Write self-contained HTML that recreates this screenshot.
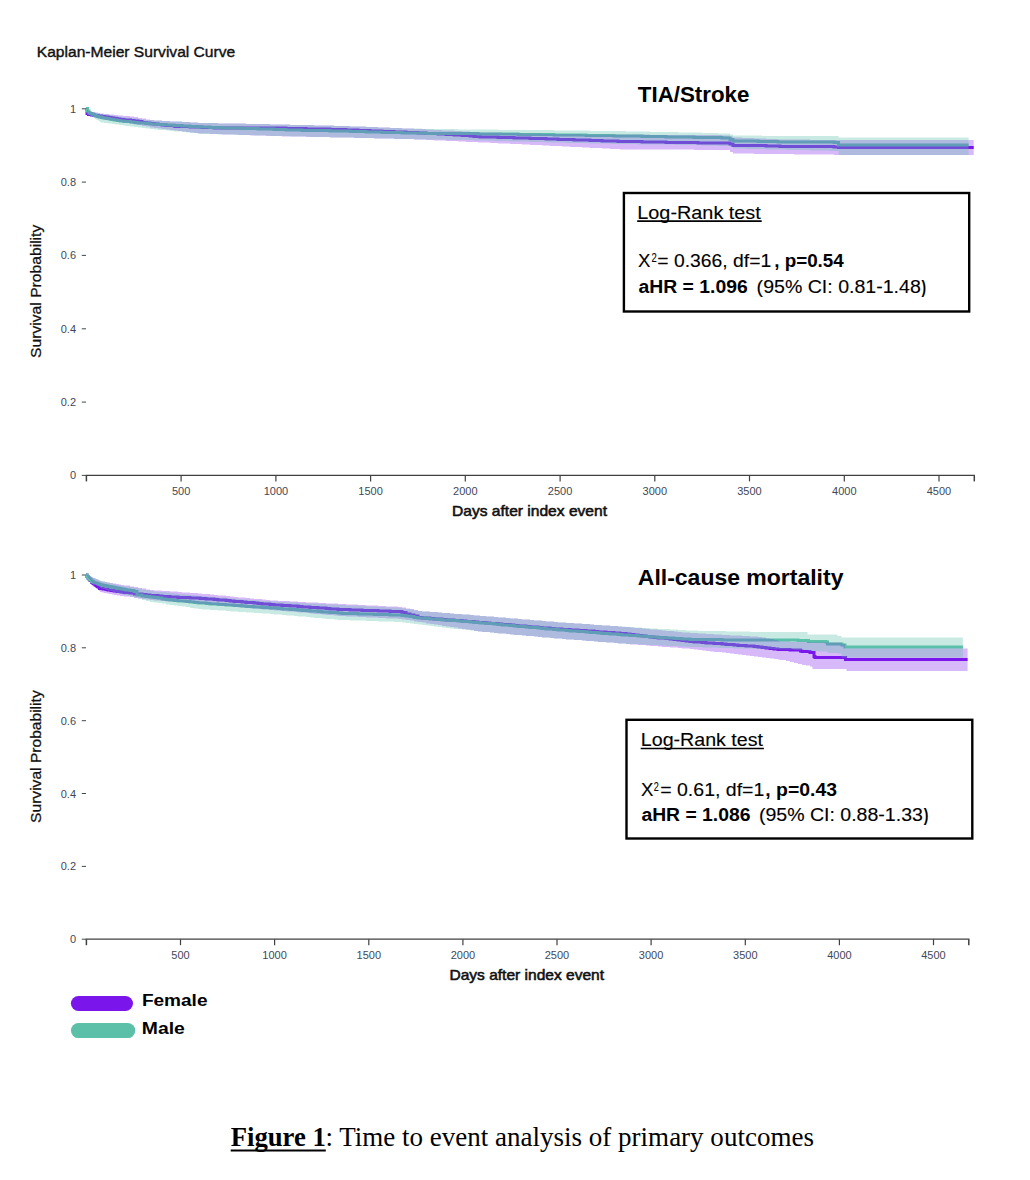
<!DOCTYPE html>
<html><head><meta charset="utf-8"><title>Kaplan-Meier Survival Curve</title>
<style>
html,body{margin:0;padding:0;background:#fff;}
body{width:1030px;height:1180px;overflow:hidden;}
svg{display:block;}
text{font-family:'Liberation Sans', Arial, sans-serif;}
.tk{font-size:11px;fill:#3f4858;}
</style></head>
<body>
<svg width="1030" height="1180" viewBox="0 0 1030 1180">
<rect width="1030" height="1180" fill="#fff"/>
<line x1="81.8" y1="475.4" x2="86" y2="475.4" stroke="#3f4858" stroke-width="1"/>
<text x="76" y="479.4" text-anchor="end" class="tk">0</text>
<line x1="81.8" y1="402.1" x2="86" y2="402.1" stroke="#3f4858" stroke-width="1"/>
<text x="76" y="406.1" text-anchor="end" class="tk">0.2</text>
<line x1="81.8" y1="328.8" x2="86" y2="328.8" stroke="#3f4858" stroke-width="1"/>
<text x="76" y="332.8" text-anchor="end" class="tk">0.4</text>
<line x1="81.8" y1="255.4" x2="86" y2="255.4" stroke="#3f4858" stroke-width="1"/>
<text x="76" y="259.4" text-anchor="end" class="tk">0.6</text>
<line x1="81.8" y1="182.1" x2="86" y2="182.1" stroke="#3f4858" stroke-width="1"/>
<text x="76" y="186.1" text-anchor="end" class="tk">0.8</text>
<line x1="81.8" y1="108.8" x2="86" y2="108.8" stroke="#3f4858" stroke-width="1"/>
<text x="76" y="112.8" text-anchor="end" class="tk">1</text>
<line x1="85.8" y1="475.4" x2="974.9" y2="475.4" stroke="#404040" stroke-width="1.3"/>
<line x1="86.4" y1="475.4" x2="86.4" y2="481.4" stroke="#404040" stroke-width="1.5"/>
<line x1="974.3" y1="475.4" x2="974.3" y2="481.4" stroke="#404040" stroke-width="1.5"/>
<line x1="181.1" y1="475.4" x2="181.1" y2="481.4" stroke="#404040" stroke-width="1.2"/>
<text x="181.1" y="495.0" text-anchor="middle" class="tk">500</text>
<line x1="275.9" y1="475.4" x2="275.9" y2="481.4" stroke="#404040" stroke-width="1.2"/>
<text x="275.9" y="495.0" text-anchor="middle" class="tk">1000</text>
<line x1="370.6" y1="475.4" x2="370.6" y2="481.4" stroke="#404040" stroke-width="1.2"/>
<text x="370.6" y="495.0" text-anchor="middle" class="tk">1500</text>
<line x1="465.3" y1="475.4" x2="465.3" y2="481.4" stroke="#404040" stroke-width="1.2"/>
<text x="465.3" y="495.0" text-anchor="middle" class="tk">2000</text>
<line x1="560.1" y1="475.4" x2="560.1" y2="481.4" stroke="#404040" stroke-width="1.2"/>
<text x="560.1" y="495.0" text-anchor="middle" class="tk">2500</text>
<line x1="654.8" y1="475.4" x2="654.8" y2="481.4" stroke="#404040" stroke-width="1.2"/>
<text x="654.8" y="495.0" text-anchor="middle" class="tk">3000</text>
<line x1="749.5" y1="475.4" x2="749.5" y2="481.4" stroke="#404040" stroke-width="1.2"/>
<text x="749.5" y="495.0" text-anchor="middle" class="tk">3500</text>
<line x1="844.3" y1="475.4" x2="844.3" y2="481.4" stroke="#404040" stroke-width="1.2"/>
<text x="844.3" y="495.0" text-anchor="middle" class="tk">4000</text>
<line x1="939.0" y1="475.4" x2="939.0" y2="481.4" stroke="#404040" stroke-width="1.2"/>
<text x="939.0" y="495.0" text-anchor="middle" class="tk">4500</text>
<path d="M86.0 108.5L87.0 108.5L87.0 113.5L88.5 113.5L88.5 114.5L90.0 114.5L90.0 114.5L91.7 114.5L91.7 115.0L93.0 115.0L93.0 115.0L94.0 115.0L94.0 115.5L95.0 115.5L95.0 115.5L96.0 115.5L96.0 115.5L97.0 115.5L97.0 115.5L98.0 115.5L98.0 116.0L99.0 116.0L99.0 116.0L100.0 116.0L100.0 116.0L101.4 116.0L101.4 116.5L103.0 116.5L103.0 116.5L104.0 116.5L104.0 116.5L105.0 116.5L105.0 117.0L106.0 117.0L106.0 117.0L107.0 117.0L107.0 117.0L108.0 117.0L108.0 117.5L109.0 117.5L109.0 117.5L110.0 117.5L110.0 117.5L111.0 117.5L111.0 118.0L112.0 118.0L112.0 118.0L113.0 118.0L113.0 118.0L114.0 118.0L114.0 118.5L115.0 118.5L115.0 118.5L116.0 118.5L116.0 118.5L117.0 118.5L117.0 119.0L118.0 119.0L118.0 119.0L119.0 119.0L119.0 119.0L120.0 119.0L120.0 119.5L121.0 119.5L121.0 119.5L122.0 119.5L122.0 119.5L123.0 119.5L123.0 119.5L124.0 119.5L124.0 120.0L125.0 120.0L125.0 120.0L126.0 120.0L126.0 120.0L130.5 120.0L130.5 120.5L134.0 120.5L134.0 121.0L138.0 121.0L138.0 121.5L142.0 121.5L142.0 122.5L146.0 122.5L146.0 123.0L150.0 123.0L150.0 123.5L154.0 123.5L154.0 124.0L158.0 124.0L158.0 124.5L162.0 124.5L162.0 125.0L166.0 125.0L166.0 125.5L170.0 125.5L170.0 125.5L174.0 125.5L174.0 126.0L175.0 126.0L175.0 126.5L178.0 126.5L178.0 126.5L182.0 126.5L182.0 126.5L186.0 126.5L186.0 126.5L190.0 126.5L190.0 127.0L194.0 127.0L194.0 127.0L198.0 127.0L198.0 127.0L202.0 127.0L202.0 127.5L206.0 127.5L206.0 127.5L210.0 127.5L210.0 127.5L214.0 127.5L214.0 128.0L218.0 128.0L218.0 128.0L220.0 128.0L220.0 128.0L222.0 128.0L222.0 128.0L226.0 128.0L226.0 128.0L230.0 128.0L230.0 128.0L234.0 128.0L234.0 128.0L238.0 128.0L238.0 128.0L242.0 128.0L242.0 128.0L246.0 128.0L246.0 128.0L250.0 128.0L250.0 128.0L254.0 128.0L254.0 128.0L258.0 128.0L258.0 128.0L262.0 128.0L262.0 128.0L266.0 128.0L266.0 128.0L270.0 128.0L270.0 128.0L274.0 128.0L274.0 128.0L278.0 128.0L278.0 128.0L282.0 128.0L282.0 128.0L286.0 128.0L286.0 128.5L290.0 128.5L290.0 128.5L294.0 128.5L294.0 128.5L298.0 128.5L298.0 128.5L302.0 128.5L302.0 128.5L306.0 128.5L306.0 129.0L310.0 129.0L310.0 129.0L314.0 129.0L314.0 129.0L318.0 129.0L318.0 129.0L322.0 129.0L322.0 129.0L326.0 129.0L326.0 129.0L330.0 129.0L330.0 129.5L334.0 129.5L334.0 129.5L338.0 129.5L338.0 129.5L340.0 129.5L340.0 129.5L342.0 129.5L342.0 129.5L346.0 129.5L346.0 130.0L350.0 130.0L350.0 130.0L354.0 130.0L354.0 130.0L358.0 130.0L358.0 130.5L362.0 130.5L362.0 130.5L366.0 130.5L366.0 130.5L370.0 130.5L370.0 131.0L374.0 131.0L374.0 131.0L378.0 131.0L378.0 131.0L382.0 131.0L382.0 131.5L386.0 131.5L386.0 131.5L390.0 131.5L390.0 131.5L394.0 131.5L394.0 132.0L398.0 132.0L398.0 132.0L402.0 132.0L402.0 132.0L406.0 132.0L406.0 132.5L410.0 132.5L410.0 132.5L414.0 132.5L414.0 132.5L418.0 132.5L418.0 133.0L422.0 133.0L422.0 133.0L426.0 133.0L426.0 133.5L430.0 133.5L430.0 133.5L434.0 133.5L434.0 133.5L438.0 133.5L438.0 134.0L442.0 134.0L442.0 134.0L446.0 134.0L446.0 134.5L450.0 134.5L450.0 134.5L454.0 134.5L454.0 135.0L458.0 135.0L458.0 135.0L462.0 135.0L462.0 135.5L466.0 135.5L466.0 135.5L470.0 135.5L470.0 136.0L474.0 136.0L474.0 136.5L478.0 136.5L478.0 136.5L480.0 136.5L480.0 137.0L482.0 137.0L482.0 137.0L486.0 137.0L486.0 137.0L490.0 137.0L490.0 137.0L494.0 137.0L494.0 137.0L498.0 137.0L498.0 137.5L502.0 137.5L502.0 137.5L506.0 137.5L506.0 137.5L510.0 137.5L510.0 137.5L514.0 137.5L514.0 138.0L518.0 138.0L518.0 138.0L522.0 138.0L522.0 138.0L526.0 138.0L526.0 138.0L530.0 138.0L530.0 138.5L534.0 138.5L534.0 138.5L538.0 138.5L538.0 138.5L542.0 138.5L542.0 138.5L546.0 138.5L546.0 139.0L550.0 139.0L550.0 139.0L554.0 139.0L554.0 139.0L558.0 139.0L558.0 139.5L562.0 139.5L562.0 139.5L566.0 139.5L566.0 139.5L570.0 139.5L570.0 139.5L574.0 139.5L574.0 140.0L578.0 140.0L578.0 140.0L582.0 140.0L582.0 140.0L586.0 140.0L586.0 140.0L590.0 140.0L590.0 140.5L594.0 140.5L594.0 140.5L598.0 140.5L598.0 140.5L602.0 140.5L602.0 141.0L606.0 141.0L606.0 141.0L610.0 141.0L610.0 141.0L614.0 141.0L614.0 141.0L618.0 141.0L618.0 141.5L620.0 141.5L620.0 141.5L622.0 141.5L622.0 141.5L626.0 141.5L626.0 141.5L630.0 141.5L630.0 141.5L634.0 141.5L634.0 141.5L638.0 141.5L638.0 141.5L642.0 141.5L642.0 142.0L646.0 142.0L646.0 142.0L650.0 142.0L650.0 142.0L654.0 142.0L654.0 142.0L658.0 142.0L658.0 142.0L662.0 142.0L662.0 142.0L666.0 142.0L666.0 142.5L670.0 142.5L670.0 142.5L674.0 142.5L674.0 142.5L678.0 142.5L678.0 142.5L682.0 142.5L682.0 142.5L686.0 142.5L686.0 142.5L690.0 142.5L690.0 142.5L694.0 142.5L694.0 142.5L698.0 142.5L698.0 143.0L702.0 143.0L702.0 143.0L706.0 143.0L706.0 143.0L710.0 143.0L710.0 143.0L714.0 143.0L714.0 143.0L718.0 143.0L718.0 143.0L722.0 143.0L722.0 143.0L726.0 143.0L726.0 143.0L727.0 143.0L727.0 143.0L730.0 143.0L730.0 144.0L733.0 144.0L733.0 145.5L734.0 145.5L734.0 145.5L738.0 145.5L738.0 145.5L742.0 145.5L742.0 145.5L746.0 145.5L746.0 145.5L750.0 145.5L750.0 145.5L754.0 145.5L754.0 145.5L758.0 145.5L758.0 145.5L760.0 145.5L760.0 145.5L762.0 145.5L762.0 145.5L766.0 145.5L766.0 146.0L770.0 146.0L770.0 146.0L774.0 146.0L774.0 146.0L778.0 146.0L778.0 146.0L780.0 146.0L780.0 146.5L782.0 146.5L782.0 146.5L786.0 146.5L786.0 146.5L790.0 146.5L790.0 146.5L794.0 146.5L794.0 146.5L798.0 146.5L798.0 146.5L802.0 146.5L802.0 146.5L806.0 146.5L806.0 146.5L810.0 146.5L810.0 146.5L814.0 146.5L814.0 146.5L818.0 146.5L818.0 146.5L822.0 146.5L822.0 146.5L826.0 146.5L826.0 146.5L830.0 146.5L830.0 146.5L834.0 146.5L834.0 147.0L838.0 147.0L838.0 147.0L838.5 147.0L838.5 147.5L842.0 147.5L842.0 147.5L846.0 147.5L846.0 147.5L850.0 147.5L850.0 147.5L854.0 147.5L854.0 147.5L858.0 147.5L858.0 147.5L862.0 147.5L862.0 147.5L866.0 147.5L866.0 147.5L870.0 147.5L870.0 147.5L874.0 147.5L874.0 147.5L878.0 147.5L878.0 147.5L882.0 147.5L882.0 147.5L886.0 147.5L886.0 147.5L890.0 147.5L890.0 147.5L894.0 147.5L894.0 147.5L898.0 147.5L898.0 147.5L902.0 147.5L902.0 147.5L906.0 147.5L906.0 147.5L910.0 147.5L910.0 147.5L914.0 147.5L914.0 147.5L918.0 147.5L918.0 147.5L922.0 147.5L922.0 147.5L926.0 147.5L926.0 147.5L930.0 147.5L930.0 147.5L934.0 147.5L934.0 147.5L938.0 147.5L938.0 147.5L942.0 147.5L942.0 147.5L946.0 147.5L946.0 147.5L950.0 147.5L950.0 147.5L954.0 147.5L954.0 147.5L958.0 147.5L958.0 147.5L962.0 147.5L962.0 147.5L966.0 147.5L966.0 147.5L970.0 147.5L970.0 147.5L973.7 147.5L973.7 147.5" fill="none" stroke="#7a16ec" stroke-width="3.0" stroke-linejoin="miter"/>
<path d="M86.0 108.5L87.5 108.5L87.5 111.0L89.0 111.0L89.0 113.0L90.0 113.0L90.0 113.5L91.7 113.5L91.7 114.0L93.0 114.0L93.0 114.5L94.0 114.5L94.0 115.0L95.0 115.0L95.0 115.5L96.0 115.5L96.0 116.0L97.0 116.0L97.0 116.0L98.0 116.0L98.0 116.5L99.0 116.5L99.0 117.0L100.0 117.0L100.0 117.0L101.4 117.0L101.4 117.5L103.0 117.5L103.0 118.0L104.0 118.0L104.0 118.0L105.0 118.0L105.0 118.0L106.0 118.0L106.0 118.5L107.0 118.5L107.0 118.5L108.0 118.5L108.0 118.5L109.0 118.5L109.0 119.0L110.0 119.0L110.0 119.0L111.0 119.0L111.0 119.5L112.0 119.5L112.0 119.5L113.0 119.5L113.0 119.5L114.0 119.5L114.0 120.0L115.0 120.0L115.0 120.0L116.0 120.0L116.0 120.0L117.0 120.0L117.0 120.5L118.0 120.5L118.0 120.5L119.0 120.5L119.0 120.5L120.0 120.5L120.0 121.0L121.0 121.0L121.0 121.0L122.0 121.0L122.0 121.0L123.0 121.0L123.0 121.0L124.0 121.0L124.0 121.5L125.0 121.5L125.0 121.5L126.0 121.5L126.0 121.5L130.5 121.5L130.5 122.0L134.0 122.0L134.0 122.5L138.0 122.5L138.0 123.0L142.0 123.0L142.0 123.0L146.0 123.0L146.0 123.5L150.0 123.5L150.0 124.0L154.0 124.0L154.0 124.0L158.0 124.0L158.0 124.5L162.0 124.5L162.0 124.5L166.0 124.5L166.0 125.0L170.0 125.0L170.0 125.0L174.0 125.0L174.0 125.5L175.0 125.5L175.0 125.5L178.0 125.5L178.0 125.5L182.0 125.5L182.0 126.0L186.0 126.0L186.0 126.0L190.0 126.0L190.0 126.5L194.0 126.5L194.0 126.5L198.0 126.5L198.0 127.0L200.0 127.0L200.0 127.0L202.0 127.0L202.0 127.0L206.0 127.0L206.0 127.0L210.0 127.0L210.0 127.5L214.0 127.5L214.0 127.5L218.0 127.5L218.0 127.5L220.0 127.5L220.0 127.5L222.0 127.5L222.0 128.0L226.0 128.0L226.0 128.0L230.0 128.0L230.0 128.0L234.0 128.0L234.0 128.0L238.0 128.0L238.0 128.0L242.0 128.0L242.0 128.5L246.0 128.5L246.0 128.5L250.0 128.5L250.0 128.5L254.0 128.5L254.0 128.5L258.0 128.5L258.0 129.0L262.0 129.0L262.0 129.0L266.0 129.0L266.0 129.0L270.0 129.0L270.0 129.0L274.0 129.0L274.0 129.5L278.0 129.5L278.0 129.5L282.0 129.5L282.0 129.5L286.0 129.5L286.0 130.0L290.0 130.0L290.0 130.0L294.0 130.0L294.0 130.0L298.0 130.0L298.0 130.0L302.0 130.0L302.0 130.5L306.0 130.5L306.0 130.5L310.0 130.5L310.0 130.5L314.0 130.5L314.0 130.5L318.0 130.5L318.0 130.5L322.0 130.5L322.0 130.5L326.0 130.5L326.0 130.5L330.0 130.5L330.0 131.0L334.0 131.0L334.0 131.0L338.0 131.0L338.0 131.0L340.0 131.0L340.0 131.0L342.0 131.0L342.0 131.0L346.0 131.0L346.0 131.0L350.0 131.0L350.0 131.5L354.0 131.5L354.0 131.5L358.0 131.5L358.0 131.5L362.0 131.5L362.0 131.5L366.0 131.5L366.0 132.0L370.0 132.0L370.0 132.0L374.0 132.0L374.0 132.0L378.0 132.0L378.0 132.0L382.0 132.0L382.0 132.5L386.0 132.5L386.0 132.5L390.0 132.5L390.0 132.5L394.0 132.5L394.0 132.5L398.0 132.5L398.0 132.5L402.0 132.5L402.0 133.0L406.0 133.0L406.0 133.0L410.0 133.0L410.0 133.0L414.0 133.0L414.0 133.0L418.0 133.0L418.0 133.0L422.0 133.0L422.0 133.0L426.0 133.0L426.0 133.5L430.0 133.5L430.0 133.5L434.0 133.5L434.0 133.5L438.0 133.5L438.0 133.5L442.0 133.5L442.0 133.5L446.0 133.5L446.0 133.5L450.0 133.5L450.0 133.5L454.0 133.5L454.0 133.5L458.0 133.5L458.0 133.5L462.0 133.5L462.0 133.5L466.0 133.5L466.0 133.5L470.0 133.5L470.0 133.5L474.0 133.5L474.0 133.5L478.0 133.5L478.0 134.0L480.0 134.0L480.0 134.0L482.0 134.0L482.0 134.0L486.0 134.0L486.0 134.0L490.0 134.0L490.0 134.0L494.0 134.0L494.0 134.0L498.0 134.0L498.0 134.0L502.0 134.0L502.0 134.0L506.0 134.0L506.0 134.0L510.0 134.0L510.0 134.0L514.0 134.0L514.0 134.0L518.0 134.0L518.0 134.5L522.0 134.5L522.0 134.5L526.0 134.5L526.0 134.5L530.0 134.5L530.0 134.5L534.0 134.5L534.0 134.5L538.0 134.5L538.0 134.5L542.0 134.5L542.0 134.5L546.0 134.5L546.0 134.5L550.0 134.5L550.0 134.5L554.0 134.5L554.0 135.0L558.0 135.0L558.0 135.0L562.0 135.0L562.0 135.0L566.0 135.0L566.0 135.0L570.0 135.0L570.0 135.0L574.0 135.0L574.0 135.0L578.0 135.0L578.0 135.0L582.0 135.0L582.0 135.0L586.0 135.0L586.0 135.5L590.0 135.5L590.0 135.5L594.0 135.5L594.0 135.5L598.0 135.5L598.0 135.5L602.0 135.5L602.0 135.5L606.0 135.5L606.0 135.5L610.0 135.5L610.0 135.5L614.0 135.5L614.0 136.0L618.0 136.0L618.0 136.0L620.0 136.0L620.0 136.0L622.0 136.0L622.0 136.0L626.0 136.0L626.0 136.0L630.0 136.0L630.0 136.0L634.0 136.0L634.0 136.0L638.0 136.0L638.0 136.0L642.0 136.0L642.0 136.5L646.0 136.5L646.0 136.5L650.0 136.5L650.0 136.5L654.0 136.5L654.0 136.5L658.0 136.5L658.0 136.5L662.0 136.5L662.0 136.5L666.0 136.5L666.0 137.0L670.0 137.0L670.0 137.0L674.0 137.0L674.0 137.0L678.0 137.0L678.0 137.0L682.0 137.0L682.0 137.0L686.0 137.0L686.0 137.0L690.0 137.0L690.0 137.0L694.0 137.0L694.0 137.5L698.0 137.5L698.0 137.5L702.0 137.5L702.0 137.5L706.0 137.5L706.0 137.5L710.0 137.5L710.0 137.5L714.0 137.5L714.0 137.5L718.0 137.5L718.0 137.5L722.0 137.5L722.0 138.0L726.0 138.0L726.0 138.0L727.0 138.0L727.0 138.0L730.0 138.0L730.0 139.5L733.0 139.5L733.0 141.0L734.0 141.0L734.0 141.0L738.0 141.0L738.0 141.0L742.0 141.0L742.0 141.0L746.0 141.0L746.0 141.0L750.0 141.0L750.0 141.0L754.0 141.0L754.0 141.0L758.0 141.0L758.0 141.5L760.0 141.5L760.0 141.5L762.0 141.5L762.0 141.5L766.0 141.5L766.0 141.5L770.0 141.5L770.0 141.5L774.0 141.5L774.0 141.5L778.0 141.5L778.0 142.0L780.0 142.0L780.0 142.0L782.0 142.0L782.0 142.0L786.0 142.0L786.0 142.0L790.0 142.0L790.0 142.0L794.0 142.0L794.0 142.0L798.0 142.0L798.0 142.0L802.0 142.0L802.0 142.0L806.0 142.0L806.0 142.0L810.0 142.0L810.0 142.0L814.0 142.0L814.0 142.0L818.0 142.0L818.0 142.0L822.0 142.0L822.0 142.0L826.0 142.0L826.0 142.0L830.0 142.0L830.0 142.0L834.0 142.0L834.0 142.5L838.0 142.5L838.0 142.5L838.5 142.5L838.5 145.0L842.0 145.0L842.0 145.0L846.0 145.0L846.0 145.0L850.0 145.0L850.0 145.0L854.0 145.0L854.0 145.0L858.0 145.0L858.0 145.0L862.0 145.0L862.0 145.0L866.0 145.0L866.0 145.0L870.0 145.0L870.0 145.0L874.0 145.0L874.0 145.0L878.0 145.0L878.0 145.0L882.0 145.0L882.0 145.0L886.0 145.0L886.0 145.0L890.0 145.0L890.0 145.0L894.0 145.0L894.0 145.0L898.0 145.0L898.0 145.0L902.0 145.0L902.0 145.0L906.0 145.0L906.0 145.0L910.0 145.0L910.0 145.0L914.0 145.0L914.0 145.0L918.0 145.0L918.0 145.0L922.0 145.0L922.0 145.0L926.0 145.0L926.0 145.0L930.0 145.0L930.0 145.0L934.0 145.0L934.0 145.0L938.0 145.0L938.0 145.0L942.0 145.0L942.0 145.0L946.0 145.0L946.0 145.0L950.0 145.0L950.0 145.0L954.0 145.0L954.0 145.0L958.0 145.0L958.0 145.0L962.0 145.0L962.0 145.0L966.0 145.0L966.0 145.0L968.6 145.0L968.6 145.0" fill="none" stroke="#5cc0a9" stroke-width="3.0" stroke-linejoin="miter"/>
<path d="M86.0 108.0L87.0 108.0L87.0 109.5L88.0 109.5L88.0 111.0L89.0 111.0L89.0 111.0L90.0 111.0L90.0 111.5L91.0 111.5L91.0 111.5L92.0 111.5L92.0 112.0L93.0 112.0L93.0 112.0L94.0 112.0L94.0 112.0L95.0 112.0L95.0 112.5L96.0 112.5L96.0 112.5L97.0 112.5L97.0 112.5L98.0 112.5L98.0 113.0L99.0 113.0L99.0 113.0L100.0 113.0L100.0 113.5L101.0 113.5L101.0 113.5L102.0 113.5L102.0 113.5L103.0 113.5L103.0 113.5L104.0 113.5L104.0 114.0L105.0 114.0L105.0 114.0L106.0 114.0L106.0 114.0L107.0 114.0L107.0 114.0L108.0 114.0L108.0 114.0L109.0 114.0L109.0 114.5L110.0 114.5L110.0 114.5L111.0 114.5L111.0 114.5L112.0 114.5L112.0 114.5L113.0 114.5L113.0 114.5L114.0 114.5L114.0 115.0L115.0 115.0L115.0 115.0L116.0 115.0L116.0 115.0L117.0 115.0L117.0 115.0L118.0 115.0L118.0 115.5L119.0 115.5L119.0 115.5L120.0 115.5L120.0 115.5L121.0 115.5L121.0 115.5L122.0 115.5L122.0 115.5L123.0 115.5L123.0 116.0L124.0 116.0L124.0 116.0L125.0 116.0L125.0 116.0L126.0 116.0L126.0 116.0L130.0 116.0L130.0 116.5L134.0 116.5L134.0 117.0L138.0 117.0L138.0 118.0L142.0 118.0L142.0 118.5L146.0 118.5L146.0 119.5L150.0 119.5L150.0 120.0L154.0 120.0L154.0 120.5L158.0 120.5L158.0 120.5L162.0 120.5L162.0 121.0L166.0 121.0L166.0 121.0L170.0 121.0L170.0 121.5L174.0 121.5L174.0 121.5L178.0 121.5L178.0 121.5L182.0 121.5L182.0 122.0L186.0 122.0L186.0 122.0L190.0 122.0L190.0 122.5L194.0 122.5L194.0 122.5L198.0 122.5L198.0 123.0L200.0 123.0L200.0 123.0L202.0 123.0L202.0 123.0L206.0 123.0L206.0 123.0L210.0 123.0L210.0 123.0L214.0 123.0L214.0 123.0L218.0 123.0L218.0 123.5L222.0 123.5L222.0 123.5L226.0 123.5L226.0 123.5L230.0 123.5L230.0 123.5L234.0 123.5L234.0 123.5L238.0 123.5L238.0 123.5L242.0 123.5L242.0 123.5L246.0 123.5L246.0 124.0L250.0 124.0L250.0 124.0L254.0 124.0L254.0 124.0L258.0 124.0L258.0 124.0L262.0 124.0L262.0 124.0L266.0 124.0L266.0 124.0L270.0 124.0L270.0 124.5L274.0 124.5L274.0 124.5L278.0 124.5L278.0 124.5L282.0 124.5L282.0 124.5L286.0 124.5L286.0 124.5L290.0 124.5L290.0 125.0L294.0 125.0L294.0 125.0L298.0 125.0L298.0 125.0L302.0 125.0L302.0 125.0L306.0 125.0L306.0 125.0L310.0 125.0L310.0 125.0L314.0 125.0L314.0 125.5L318.0 125.5L318.0 125.5L322.0 125.5L322.0 125.5L326.0 125.5L326.0 125.5L330.0 125.5L330.0 125.5L334.0 125.5L334.0 126.0L338.0 126.0L338.0 126.0L340.0 126.0L340.0 126.0L342.0 126.0L342.0 126.0L346.0 126.0L346.0 126.0L350.0 126.0L350.0 126.5L354.0 126.5L354.0 126.5L358.0 126.5L358.0 126.5L362.0 126.5L362.0 126.5L366.0 126.5L366.0 127.0L370.0 127.0L370.0 127.0L374.0 127.0L374.0 127.0L378.0 127.0L378.0 127.5L382.0 127.5L382.0 127.5L386.0 127.5L386.0 127.5L390.0 127.5L390.0 128.0L394.0 128.0L394.0 128.0L398.0 128.0L398.0 128.0L402.0 128.0L402.0 128.5L406.0 128.5L406.0 128.5L410.0 128.5L410.0 128.5L414.0 128.5L414.0 129.0L418.0 129.0L418.0 129.0L422.0 129.0L422.0 129.0L426.0 129.0L426.0 129.5L430.0 129.5L430.0 129.5L434.0 129.5L434.0 130.0L438.0 130.0L438.0 130.0L442.0 130.0L442.0 130.5L446.0 130.5L446.0 130.5L450.0 130.5L450.0 130.5L454.0 130.5L454.0 131.0L458.0 131.0L458.0 131.0L462.0 131.0L462.0 131.5L466.0 131.5L466.0 131.5L470.0 131.5L470.0 132.0L474.0 132.0L474.0 132.0L478.0 132.0L478.0 132.0L480.0 132.0L480.0 132.5L482.0 132.5L482.0 132.5L486.0 132.5L486.0 132.5L490.0 132.5L490.0 132.5L494.0 132.5L494.0 132.5L498.0 132.5L498.0 132.5L502.0 132.5L502.0 133.0L506.0 133.0L506.0 133.0L510.0 133.0L510.0 133.0L514.0 133.0L514.0 133.0L518.0 133.0L518.0 133.0L522.0 133.0L522.0 133.5L526.0 133.5L526.0 133.5L530.0 133.5L530.0 133.5L534.0 133.5L534.0 133.5L538.0 133.5L538.0 133.5L542.0 133.5L542.0 134.0L546.0 134.0L546.0 134.0L550.0 134.0L550.0 134.0L554.0 134.0L554.0 134.0L558.0 134.0L558.0 134.0L562.0 134.0L562.0 134.0L566.0 134.0L566.0 134.0L570.0 134.0L570.0 134.0L574.0 134.0L574.0 134.0L578.0 134.0L578.0 134.0L582.0 134.0L582.0 134.5L586.0 134.5L586.0 134.5L590.0 134.5L590.0 134.5L594.0 134.5L594.0 134.5L598.0 134.5L598.0 134.5L602.0 134.5L602.0 134.5L606.0 134.5L606.0 134.5L610.0 134.5L610.0 134.5L614.0 134.5L614.0 134.5L618.0 134.5L618.0 134.5L620.0 134.5L620.0 134.5L622.0 134.5L622.0 134.5L626.0 134.5L626.0 134.5L630.0 134.5L630.0 134.5L634.0 134.5L634.0 134.5L638.0 134.5L638.0 134.5L642.0 134.5L642.0 134.5L646.0 134.5L646.0 134.5L650.0 134.5L650.0 135.0L654.0 135.0L654.0 135.0L658.0 135.0L658.0 135.0L662.0 135.0L662.0 135.0L666.0 135.0L666.0 135.0L670.0 135.0L670.0 135.0L674.0 135.0L674.0 135.0L678.0 135.0L678.0 135.0L682.0 135.0L682.0 135.0L686.0 135.0L686.0 135.0L690.0 135.0L690.0 135.0L694.0 135.0L694.0 135.0L698.0 135.0L698.0 135.0L702.0 135.0L702.0 135.0L706.0 135.0L706.0 135.0L710.0 135.0L710.0 135.0L714.0 135.0L714.0 135.0L718.0 135.0L718.0 135.0L722.0 135.0L722.0 135.5L726.0 135.5L726.0 135.5L727.0 135.5L727.0 135.5L730.0 135.5L730.0 136.5L733.0 136.5L733.0 137.5L734.0 137.5L734.0 137.5L738.0 137.5L738.0 137.5L742.0 137.5L742.0 138.0L746.0 138.0L746.0 138.0L750.0 138.0L750.0 138.0L754.0 138.0L754.0 138.5L758.0 138.5L758.0 138.5L762.0 138.5L762.0 138.5L766.0 138.5L766.0 139.0L770.0 139.0L770.0 139.0L774.0 139.0L774.0 139.0L778.0 139.0L778.0 139.5L780.0 139.5L780.0 139.5L782.0 139.5L782.0 139.5L786.0 139.5L786.0 139.5L790.0 139.5L790.0 139.5L794.0 139.5L794.0 139.5L798.0 139.5L798.0 139.5L802.0 139.5L802.0 139.5L806.0 139.5L806.0 139.5L810.0 139.5L810.0 140.0L814.0 140.0L814.0 140.0L818.0 140.0L818.0 140.0L822.0 140.0L822.0 140.0L826.0 140.0L826.0 140.0L830.0 140.0L830.0 140.0L834.0 140.0L834.0 140.0L838.0 140.0L838.0 140.0L842.0 140.0L842.0 140.0L846.0 140.0L846.0 140.0L850.0 140.0L850.0 140.0L854.0 140.0L854.0 140.0L858.0 140.0L858.0 140.0L862.0 140.0L862.0 140.0L866.0 140.0L866.0 140.0L870.0 140.0L870.0 140.0L874.0 140.0L874.0 140.0L878.0 140.0L878.0 140.0L882.0 140.0L882.0 140.0L886.0 140.0L886.0 140.0L890.0 140.0L890.0 140.0L894.0 140.0L894.0 140.0L898.0 140.0L898.0 140.0L902.0 140.0L902.0 140.0L906.0 140.0L906.0 140.0L910.0 140.0L910.0 140.0L914.0 140.0L914.0 140.0L918.0 140.0L918.0 140.0L922.0 140.0L922.0 140.0L926.0 140.0L926.0 140.0L930.0 140.0L930.0 140.0L934.0 140.0L934.0 140.0L938.0 140.0L938.0 140.0L942.0 140.0L942.0 140.0L946.0 140.0L946.0 140.0L950.0 140.0L950.0 140.0L954.0 140.0L954.0 140.0L958.0 140.0L958.0 140.0L962.0 140.0L962.0 140.0L966.0 140.0L966.0 140.0L970.0 140.0L970.0 140.0L973.7 140.0L973.7 140.0L973.7 155.0L973.7 155.0L970.0 155.0L970.0 155.0L966.0 155.0L966.0 155.0L962.0 155.0L962.0 155.0L958.0 155.0L958.0 155.0L954.0 155.0L954.0 155.0L950.0 155.0L950.0 155.0L946.0 155.0L946.0 155.0L942.0 155.0L942.0 155.0L938.0 155.0L938.0 155.0L934.0 155.0L934.0 155.0L930.0 155.0L930.0 155.0L926.0 155.0L926.0 155.0L922.0 155.0L922.0 155.0L918.0 155.0L918.0 155.0L914.0 155.0L914.0 155.0L910.0 155.0L910.0 155.0L906.0 155.0L906.0 155.0L902.0 155.0L902.0 155.0L898.0 155.0L898.0 155.0L894.0 155.0L894.0 155.0L890.0 155.0L890.0 155.0L886.0 155.0L886.0 155.0L882.0 155.0L882.0 155.0L878.0 155.0L878.0 155.0L874.0 155.0L874.0 155.0L870.0 155.0L870.0 155.0L866.0 155.0L866.0 155.0L862.0 155.0L862.0 155.0L858.0 155.0L858.0 155.0L854.0 155.0L854.0 155.0L850.0 155.0L850.0 155.0L846.0 155.0L846.0 155.0L842.0 155.0L842.0 155.0L838.0 155.0L838.0 155.0L834.0 155.0L834.0 154.5L830.0 154.5L830.0 154.5L826.0 154.5L826.0 154.5L822.0 154.5L822.0 154.5L818.0 154.5L818.0 154.5L814.0 154.5L814.0 154.5L810.0 154.5L810.0 154.5L806.0 154.5L806.0 154.5L802.0 154.5L802.0 154.5L798.0 154.5L798.0 154.5L794.0 154.5L794.0 154.0L790.0 154.0L790.0 154.0L786.0 154.0L786.0 154.0L782.0 154.0L782.0 154.0L778.0 154.0L778.0 154.0L774.0 154.0L774.0 154.0L770.0 154.0L770.0 154.0L766.0 154.0L766.0 154.0L762.0 154.0L762.0 154.0L758.0 154.0L758.0 154.0L754.0 154.0L754.0 153.5L750.0 153.5L750.0 153.5L746.0 153.5L746.0 153.5L742.0 153.5L742.0 153.5L738.0 153.5L738.0 153.5L734.0 153.5L734.0 153.5L733.0 153.5L733.0 152.0L730.0 152.0L730.0 150.0L727.0 150.0L727.0 150.0L726.0 150.0L726.0 150.0L722.0 150.0L722.0 150.0L718.0 150.0L718.0 150.0L714.0 150.0L714.0 150.0L710.0 150.0L710.0 150.0L706.0 150.0L706.0 150.0L702.0 150.0L702.0 150.0L698.0 150.0L698.0 150.0L694.0 150.0L694.0 149.5L690.0 149.5L690.0 149.5L686.0 149.5L686.0 149.5L682.0 149.5L682.0 149.5L678.0 149.5L678.0 149.5L674.0 149.5L674.0 149.5L670.0 149.5L670.0 149.5L666.0 149.5L666.0 149.5L662.0 149.5L662.0 149.5L658.0 149.5L658.0 149.5L654.0 149.5L654.0 149.5L650.0 149.5L650.0 149.5L646.0 149.5L646.0 149.5L642.0 149.5L642.0 149.5L638.0 149.5L638.0 149.5L634.0 149.5L634.0 149.5L630.0 149.5L630.0 149.5L626.0 149.5L626.0 149.5L622.0 149.5L622.0 149.5L620.0 149.5L620.0 149.0L618.0 149.0L618.0 149.0L614.0 149.0L614.0 149.0L610.0 149.0L610.0 148.5L606.0 148.5L606.0 148.5L602.0 148.5L602.0 148.0L598.0 148.0L598.0 148.0L594.0 148.0L594.0 148.0L590.0 148.0L590.0 147.5L586.0 147.5L586.0 147.5L582.0 147.5L582.0 147.0L578.0 147.0L578.0 147.0L574.0 147.0L574.0 147.0L570.0 147.0L570.0 146.5L566.0 146.5L566.0 146.5L562.0 146.5L562.0 146.0L558.0 146.0L558.0 146.0L554.0 146.0L554.0 146.0L550.0 146.0L550.0 145.5L546.0 145.5L546.0 145.5L542.0 145.5L542.0 145.0L538.0 145.0L538.0 145.0L534.0 145.0L534.0 145.0L530.0 145.0L530.0 144.5L526.0 144.5L526.0 144.5L522.0 144.5L522.0 144.0L518.0 144.0L518.0 144.0L514.0 144.0L514.0 144.0L510.0 144.0L510.0 143.5L506.0 143.5L506.0 143.5L502.0 143.5L502.0 143.5L498.0 143.5L498.0 143.0L494.0 143.0L494.0 143.0L490.0 143.0L490.0 142.5L486.0 142.5L486.0 142.5L482.0 142.5L482.0 142.5L480.0 142.5L480.0 142.5L478.0 142.5L478.0 142.0L474.0 142.0L474.0 142.0L470.0 142.0L470.0 142.0L466.0 142.0L466.0 141.5L462.0 141.5L462.0 141.5L458.0 141.5L458.0 141.0L454.0 141.0L454.0 141.0L450.0 141.0L450.0 141.0L446.0 141.0L446.0 140.5L442.0 140.5L442.0 140.5L438.0 140.5L438.0 140.5L434.0 140.5L434.0 140.0L430.0 140.0L430.0 140.0L426.0 140.0L426.0 139.5L422.0 139.5L422.0 139.5L418.0 139.5L418.0 139.5L414.0 139.5L414.0 139.0L410.0 139.0L410.0 139.0L406.0 139.0L406.0 139.0L402.0 139.0L402.0 139.0L398.0 139.0L398.0 139.0L394.0 139.0L394.0 138.5L390.0 138.5L390.0 138.5L386.0 138.5L386.0 138.5L382.0 138.5L382.0 138.5L378.0 138.5L378.0 138.5L374.0 138.5L374.0 138.0L370.0 138.0L370.0 138.0L366.0 138.0L366.0 138.0L362.0 138.0L362.0 138.0L358.0 138.0L358.0 138.0L354.0 138.0L354.0 137.5L350.0 137.5L350.0 137.5L346.0 137.5L346.0 137.5L342.0 137.5L342.0 137.5L340.0 137.5L340.0 137.5L338.0 137.5L338.0 137.5L334.0 137.5L334.0 137.5L330.0 137.5L330.0 137.0L326.0 137.0L326.0 137.0L322.0 137.0L322.0 137.0L318.0 137.0L318.0 137.0L314.0 137.0L314.0 137.0L310.0 137.0L310.0 137.0L306.0 137.0L306.0 136.5L302.0 136.5L302.0 136.5L298.0 136.5L298.0 136.5L294.0 136.5L294.0 136.5L290.0 136.5L290.0 136.5L286.0 136.5L286.0 136.5L282.0 136.5L282.0 136.0L278.0 136.0L278.0 136.0L274.0 136.0L274.0 136.0L270.0 136.0L270.0 136.0L266.0 136.0L266.0 135.5L262.0 135.5L262.0 135.5L258.0 135.5L258.0 135.5L254.0 135.5L254.0 135.5L250.0 135.5L250.0 135.0L246.0 135.0L246.0 135.0L242.0 135.0L242.0 135.0L238.0 135.0L238.0 134.5L234.0 134.5L234.0 134.5L230.0 134.5L230.0 134.5L226.0 134.5L226.0 134.5L222.0 134.5L222.0 134.0L218.0 134.0L218.0 134.0L214.0 134.0L214.0 134.0L210.0 134.0L210.0 133.5L206.0 133.5L206.0 133.5L202.0 133.5L202.0 133.5L200.0 133.5L200.0 133.5L198.0 133.5L198.0 133.0L194.0 133.0L194.0 132.5L190.0 132.5L190.0 132.0L186.0 132.0L186.0 131.5L182.0 131.5L182.0 131.0L178.0 131.0L178.0 130.5L174.0 130.5L174.0 130.0L170.0 130.0L170.0 129.5L166.0 129.5L166.0 129.0L162.0 129.0L162.0 128.5L158.0 128.5L158.0 128.0L154.0 128.0L154.0 127.5L150.0 127.5L150.0 126.5L146.0 126.5L146.0 126.0L142.0 126.0L142.0 125.0L138.0 125.0L138.0 124.5L134.0 124.5L134.0 123.5L130.0 123.5L130.0 123.0L126.0 123.0L126.0 122.5L125.0 122.5L125.0 122.5L124.0 122.5L124.0 122.5L123.0 122.5L123.0 122.5L122.0 122.5L122.0 122.0L121.0 122.0L121.0 122.0L120.0 122.0L120.0 122.0L119.0 122.0L119.0 121.5L118.0 121.5L118.0 121.5L117.0 121.5L117.0 121.5L116.0 121.5L116.0 121.0L115.0 121.0L115.0 121.0L114.0 121.0L114.0 121.0L113.0 121.0L113.0 120.5L112.0 120.5L112.0 120.5L111.0 120.5L111.0 120.5L110.0 120.5L110.0 120.0L109.0 120.0L109.0 120.0L108.0 120.0L108.0 120.0L107.0 120.0L107.0 120.0L106.0 120.0L106.0 119.5L105.0 119.5L105.0 119.5L104.0 119.5L104.0 119.5L103.0 119.5L103.0 119.0L102.0 119.0L102.0 119.0L101.0 119.0L101.0 119.0L100.0 119.0L100.0 118.5L99.0 118.5L99.0 118.5L98.0 118.5L98.0 118.0L97.0 118.0L97.0 118.0L96.0 118.0L96.0 117.5L95.0 117.5L95.0 117.5L94.0 117.5L94.0 117.0L93.0 117.0L93.0 117.0L92.0 117.0L92.0 116.5L91.0 116.5L91.0 116.5L90.0 116.5L90.0 116.0L89.0 116.0L89.0 116.0L88.0 116.0L88.0 112.5L87.0 112.5L87.0 109.0L86.0 109.0Z" fill="#7a16ec" fill-opacity="0.30" stroke="none"/>
<path d="M86.0 107.5L87.0 107.5L87.0 109.0L88.0 109.0L88.0 110.0L89.0 110.0L89.0 110.5L90.0 110.5L90.0 111.0L91.0 111.0L91.0 111.5L92.0 111.5L92.0 112.0L93.0 112.0L93.0 112.0L94.0 112.0L94.0 112.5L95.0 112.5L95.0 112.5L96.0 112.5L96.0 113.0L97.0 113.0L97.0 113.0L98.0 113.0L98.0 113.5L99.0 113.5L99.0 113.5L100.0 113.5L100.0 114.0L101.0 114.0L101.0 114.0L102.0 114.0L102.0 114.0L103.0 114.0L103.0 114.5L104.0 114.5L104.0 114.5L105.0 114.5L105.0 114.5L106.0 114.5L106.0 114.5L107.0 114.5L107.0 115.0L108.0 115.0L108.0 115.0L109.0 115.0L109.0 115.0L110.0 115.0L110.0 115.0L111.0 115.0L111.0 115.5L112.0 115.5L112.0 115.5L113.0 115.5L113.0 115.5L114.0 115.5L114.0 116.0L115.0 116.0L115.0 116.0L116.0 116.0L116.0 116.0L117.0 116.0L117.0 116.0L118.0 116.0L118.0 116.5L119.0 116.5L119.0 116.5L120.0 116.5L120.0 116.5L121.0 116.5L121.0 117.0L122.0 117.0L122.0 117.0L123.0 117.0L123.0 117.0L124.0 117.0L124.0 117.0L125.0 117.0L125.0 117.5L126.0 117.5L126.0 117.5L130.0 117.5L130.0 118.0L134.0 118.0L134.0 118.5L138.0 118.5L138.0 119.0L142.0 119.0L142.0 119.5L146.0 119.5L146.0 120.0L150.0 120.0L150.0 120.0L154.0 120.0L154.0 120.5L158.0 120.5L158.0 120.5L162.0 120.5L162.0 121.0L166.0 121.0L166.0 121.0L170.0 121.0L170.0 121.5L174.0 121.5L174.0 121.5L178.0 121.5L178.0 121.5L182.0 121.5L182.0 122.0L186.0 122.0L186.0 122.0L190.0 122.0L190.0 122.5L194.0 122.5L194.0 122.5L198.0 122.5L198.0 123.0L200.0 123.0L200.0 123.0L202.0 123.0L202.0 123.0L206.0 123.0L206.0 123.0L210.0 123.0L210.0 123.0L214.0 123.0L214.0 123.0L218.0 123.0L218.0 123.5L222.0 123.5L222.0 123.5L226.0 123.5L226.0 123.5L230.0 123.5L230.0 123.5L234.0 123.5L234.0 123.5L238.0 123.5L238.0 123.5L242.0 123.5L242.0 123.5L246.0 123.5L246.0 124.0L250.0 124.0L250.0 124.0L254.0 124.0L254.0 124.0L258.0 124.0L258.0 124.0L262.0 124.0L262.0 124.0L266.0 124.0L266.0 124.0L270.0 124.0L270.0 124.5L274.0 124.5L274.0 124.5L278.0 124.5L278.0 124.5L282.0 124.5L282.0 124.5L286.0 124.5L286.0 124.5L290.0 124.5L290.0 125.0L294.0 125.0L294.0 125.0L298.0 125.0L298.0 125.0L302.0 125.0L302.0 125.0L306.0 125.0L306.0 125.0L310.0 125.0L310.0 125.0L314.0 125.0L314.0 125.5L318.0 125.5L318.0 125.5L322.0 125.5L322.0 125.5L326.0 125.5L326.0 125.5L330.0 125.5L330.0 125.5L334.0 125.5L334.0 126.0L338.0 126.0L338.0 126.0L340.0 126.0L340.0 126.0L342.0 126.0L342.0 126.0L346.0 126.0L346.0 126.0L350.0 126.0L350.0 126.5L354.0 126.5L354.0 126.5L358.0 126.5L358.0 126.5L362.0 126.5L362.0 126.5L366.0 126.5L366.0 127.0L370.0 127.0L370.0 127.0L374.0 127.0L374.0 127.0L378.0 127.0L378.0 127.5L382.0 127.5L382.0 127.5L386.0 127.5L386.0 127.5L390.0 127.5L390.0 128.0L394.0 128.0L394.0 128.0L398.0 128.0L398.0 128.0L402.0 128.0L402.0 128.5L406.0 128.5L406.0 128.5L410.0 128.5L410.0 128.5L414.0 128.5L414.0 128.5L418.0 128.5L418.0 128.5L422.0 128.5L422.0 129.0L426.0 129.0L426.0 129.0L430.0 129.0L430.0 129.0L434.0 129.0L434.0 129.0L438.0 129.0L438.0 129.0L442.0 129.0L442.0 129.0L446.0 129.0L446.0 129.0L450.0 129.0L450.0 129.0L454.0 129.0L454.0 129.0L458.0 129.0L458.0 129.5L462.0 129.5L462.0 129.5L466.0 129.5L466.0 129.5L470.0 129.5L470.0 129.5L474.0 129.5L474.0 129.5L478.0 129.5L478.0 129.5L480.0 129.5L480.0 129.5L482.0 129.5L482.0 129.5L486.0 129.5L486.0 129.5L490.0 129.5L490.0 129.5L494.0 129.5L494.0 129.5L498.0 129.5L498.0 130.0L502.0 130.0L502.0 130.0L506.0 130.0L506.0 130.0L510.0 130.0L510.0 130.0L514.0 130.0L514.0 130.0L518.0 130.0L518.0 130.0L522.0 130.0L522.0 130.0L526.0 130.0L526.0 130.0L530.0 130.0L530.0 130.0L534.0 130.0L534.0 130.0L538.0 130.0L538.0 130.0L542.0 130.0L542.0 130.0L546.0 130.0L546.0 130.0L550.0 130.0L550.0 130.0L554.0 130.0L554.0 130.5L558.0 130.5L558.0 130.5L562.0 130.5L562.0 130.5L566.0 130.5L566.0 130.5L570.0 130.5L570.0 130.5L574.0 130.5L574.0 130.5L578.0 130.5L578.0 130.5L582.0 130.5L582.0 130.5L586.0 130.5L586.0 130.5L590.0 130.5L590.0 131.0L594.0 131.0L594.0 131.0L598.0 131.0L598.0 131.0L602.0 131.0L602.0 131.0L606.0 131.0L606.0 131.0L610.0 131.0L610.0 131.0L614.0 131.0L614.0 131.0L618.0 131.0L618.0 131.0L620.0 131.0L620.0 131.0L622.0 131.0L622.0 131.0L626.0 131.0L626.0 131.5L630.0 131.5L630.0 131.5L634.0 131.5L634.0 131.5L638.0 131.5L638.0 131.5L642.0 131.5L642.0 131.5L646.0 131.5L646.0 131.5L650.0 131.5L650.0 132.0L654.0 132.0L654.0 132.0L658.0 132.0L658.0 132.0L662.0 132.0L662.0 132.0L666.0 132.0L666.0 132.0L670.0 132.0L670.0 132.0L674.0 132.0L674.0 132.0L678.0 132.0L678.0 132.5L682.0 132.5L682.0 132.5L686.0 132.5L686.0 132.5L690.0 132.5L690.0 132.5L694.0 132.5L694.0 132.5L698.0 132.5L698.0 132.5L702.0 132.5L702.0 133.0L706.0 133.0L706.0 133.0L710.0 133.0L710.0 133.0L714.0 133.0L714.0 133.0L718.0 133.0L718.0 133.5L722.0 133.5L722.0 133.5L726.0 133.5L726.0 133.5L727.0 133.5L727.0 133.5L730.0 133.5L730.0 134.5L733.0 134.5L733.0 135.5L734.0 135.5L734.0 135.5L738.0 135.5L738.0 135.5L742.0 135.5L742.0 135.5L746.0 135.5L746.0 135.5L750.0 135.5L750.0 135.5L754.0 135.5L754.0 135.5L758.0 135.5L758.0 135.5L762.0 135.5L762.0 136.0L766.0 136.0L766.0 136.0L770.0 136.0L770.0 136.0L774.0 136.0L774.0 136.0L778.0 136.0L778.0 136.0L782.0 136.0L782.0 136.0L786.0 136.0L786.0 136.0L790.0 136.0L790.0 136.0L794.0 136.0L794.0 136.0L798.0 136.0L798.0 136.0L802.0 136.0L802.0 136.0L806.0 136.0L806.0 136.0L810.0 136.0L810.0 136.0L814.0 136.0L814.0 136.0L818.0 136.0L818.0 136.0L822.0 136.0L822.0 136.0L826.0 136.0L826.0 136.0L830.0 136.0L830.0 136.0L834.0 136.0L834.0 136.0L838.0 136.0L838.0 136.0L838.5 136.0L838.5 137.5L842.0 137.5L842.0 137.5L846.0 137.5L846.0 137.5L850.0 137.5L850.0 137.5L854.0 137.5L854.0 137.5L858.0 137.5L858.0 137.5L862.0 137.5L862.0 137.5L866.0 137.5L866.0 137.5L870.0 137.5L870.0 137.5L874.0 137.5L874.0 137.5L878.0 137.5L878.0 137.5L882.0 137.5L882.0 137.5L886.0 137.5L886.0 137.5L890.0 137.5L890.0 137.5L894.0 137.5L894.0 137.5L898.0 137.5L898.0 137.5L902.0 137.5L902.0 137.5L906.0 137.5L906.0 137.5L910.0 137.5L910.0 137.5L914.0 137.5L914.0 137.5L918.0 137.5L918.0 137.5L922.0 137.5L922.0 137.5L926.0 137.5L926.0 137.5L930.0 137.5L930.0 137.5L934.0 137.5L934.0 137.5L938.0 137.5L938.0 137.5L942.0 137.5L942.0 137.5L946.0 137.5L946.0 137.5L950.0 137.5L950.0 137.5L954.0 137.5L954.0 137.5L958.0 137.5L958.0 137.5L962.0 137.5L962.0 137.5L966.0 137.5L966.0 137.5L968.6 137.5L968.6 137.5L968.6 155.0L968.6 155.0L966.0 155.0L966.0 155.0L962.0 155.0L962.0 155.0L958.0 155.0L958.0 155.0L954.0 155.0L954.0 155.0L950.0 155.0L950.0 155.0L946.0 155.0L946.0 155.0L942.0 155.0L942.0 155.0L938.0 155.0L938.0 155.0L934.0 155.0L934.0 155.0L930.0 155.0L930.0 155.0L926.0 155.0L926.0 155.0L922.0 155.0L922.0 155.0L918.0 155.0L918.0 155.0L914.0 155.0L914.0 155.0L910.0 155.0L910.0 155.0L906.0 155.0L906.0 155.0L902.0 155.0L902.0 155.0L898.0 155.0L898.0 155.0L894.0 155.0L894.0 155.0L890.0 155.0L890.0 155.0L886.0 155.0L886.0 155.0L882.0 155.0L882.0 155.0L878.0 155.0L878.0 155.0L874.0 155.0L874.0 155.0L870.0 155.0L870.0 155.0L866.0 155.0L866.0 155.0L862.0 155.0L862.0 155.0L858.0 155.0L858.0 155.0L854.0 155.0L854.0 155.0L850.0 155.0L850.0 155.0L846.0 155.0L846.0 155.0L842.0 155.0L842.0 155.0L838.5 155.0L838.5 151.0L838.0 151.0L838.0 151.0L834.0 151.0L834.0 151.0L830.0 151.0L830.0 150.5L826.0 150.5L826.0 150.5L822.0 150.5L822.0 150.5L818.0 150.5L818.0 150.5L814.0 150.5L814.0 150.5L810.0 150.5L810.0 150.0L806.0 150.0L806.0 150.0L802.0 150.0L802.0 150.0L798.0 150.0L798.0 150.0L794.0 150.0L794.0 150.0L790.0 150.0L790.0 150.0L786.0 150.0L786.0 149.5L782.0 149.5L782.0 149.5L778.0 149.5L778.0 149.5L774.0 149.5L774.0 149.5L770.0 149.5L770.0 149.5L766.0 149.5L766.0 149.0L762.0 149.0L762.0 149.0L758.0 149.0L758.0 149.0L754.0 149.0L754.0 149.0L750.0 149.0L750.0 149.0L746.0 149.0L746.0 148.5L742.0 148.5L742.0 148.5L738.0 148.5L738.0 148.5L734.0 148.5L734.0 148.5L733.0 148.5L733.0 147.0L730.0 147.0L730.0 146.0L727.0 146.0L727.0 146.0L726.0 146.0L726.0 146.0L722.0 146.0L722.0 146.0L718.0 146.0L718.0 145.5L714.0 145.5L714.0 145.5L710.0 145.5L710.0 145.5L706.0 145.5L706.0 145.5L702.0 145.5L702.0 145.0L698.0 145.0L698.0 145.0L694.0 145.0L694.0 145.0L690.0 145.0L690.0 145.0L686.0 145.0L686.0 145.0L682.0 145.0L682.0 145.0L678.0 145.0L678.0 145.0L674.0 145.0L674.0 144.5L670.0 144.5L670.0 144.5L666.0 144.5L666.0 144.5L662.0 144.5L662.0 144.5L658.0 144.5L658.0 144.5L654.0 144.5L654.0 144.5L650.0 144.5L650.0 144.5L646.0 144.5L646.0 144.5L642.0 144.5L642.0 144.5L638.0 144.5L638.0 144.0L634.0 144.0L634.0 144.0L630.0 144.0L630.0 144.0L626.0 144.0L626.0 144.0L622.0 144.0L622.0 144.0L620.0 144.0L620.0 144.0L618.0 144.0L618.0 144.0L614.0 144.0L614.0 144.0L610.0 144.0L610.0 143.5L606.0 143.5L606.0 143.5L602.0 143.5L602.0 143.5L598.0 143.5L598.0 143.5L594.0 143.5L594.0 143.5L590.0 143.5L590.0 143.0L586.0 143.0L586.0 143.0L582.0 143.0L582.0 143.0L578.0 143.0L578.0 143.0L574.0 143.0L574.0 143.0L570.0 143.0L570.0 143.0L566.0 143.0L566.0 142.5L562.0 142.5L562.0 142.5L558.0 142.5L558.0 142.5L554.0 142.5L554.0 142.5L550.0 142.5L550.0 142.5L546.0 142.5L546.0 142.0L542.0 142.0L542.0 142.0L538.0 142.0L538.0 142.0L534.0 142.0L534.0 142.0L530.0 142.0L530.0 141.5L526.0 141.5L526.0 141.5L522.0 141.5L522.0 141.5L518.0 141.5L518.0 141.5L514.0 141.5L514.0 141.5L510.0 141.5L510.0 141.0L506.0 141.0L506.0 141.0L502.0 141.0L502.0 141.0L498.0 141.0L498.0 141.0L494.0 141.0L494.0 140.5L490.0 140.5L490.0 140.5L486.0 140.5L486.0 140.5L482.0 140.5L482.0 140.5L480.0 140.5L480.0 140.5L478.0 140.5L478.0 140.5L474.0 140.5L474.0 140.0L470.0 140.0L470.0 140.0L466.0 140.0L466.0 140.0L462.0 140.0L462.0 140.0L458.0 140.0L458.0 140.0L454.0 140.0L454.0 140.0L450.0 140.0L450.0 140.0L446.0 140.0L446.0 139.5L442.0 139.5L442.0 139.5L438.0 139.5L438.0 139.5L434.0 139.5L434.0 139.5L430.0 139.5L430.0 139.5L426.0 139.5L426.0 139.5L422.0 139.5L422.0 139.5L418.0 139.5L418.0 139.5L414.0 139.5L414.0 139.0L410.0 139.0L410.0 139.0L406.0 139.0L406.0 139.0L402.0 139.0L402.0 139.0L398.0 139.0L398.0 139.0L394.0 139.0L394.0 138.5L390.0 138.5L390.0 138.5L386.0 138.5L386.0 138.5L382.0 138.5L382.0 138.5L378.0 138.5L378.0 138.5L374.0 138.5L374.0 138.0L370.0 138.0L370.0 138.0L366.0 138.0L366.0 138.0L362.0 138.0L362.0 138.0L358.0 138.0L358.0 138.0L354.0 138.0L354.0 137.5L350.0 137.5L350.0 137.5L346.0 137.5L346.0 137.5L342.0 137.5L342.0 137.5L340.0 137.5L340.0 137.5L338.0 137.5L338.0 137.5L334.0 137.5L334.0 137.5L330.0 137.5L330.0 137.0L326.0 137.0L326.0 137.0L322.0 137.0L322.0 137.0L318.0 137.0L318.0 137.0L314.0 137.0L314.0 137.0L310.0 137.0L310.0 136.5L306.0 136.5L306.0 136.5L302.0 136.5L302.0 136.5L298.0 136.5L298.0 136.5L294.0 136.5L294.0 136.5L290.0 136.5L290.0 136.0L286.0 136.0L286.0 136.0L282.0 136.0L282.0 136.0L278.0 136.0L278.0 136.0L274.0 136.0L274.0 136.0L270.0 136.0L270.0 135.5L266.0 135.5L266.0 135.5L262.0 135.5L262.0 135.5L258.0 135.5L258.0 135.5L254.0 135.5L254.0 135.0L250.0 135.0L250.0 135.0L246.0 135.0L246.0 135.0L242.0 135.0L242.0 135.0L238.0 135.0L238.0 135.0L234.0 135.0L234.0 134.5L230.0 134.5L230.0 134.5L226.0 134.5L226.0 134.5L222.0 134.5L222.0 134.5L218.0 134.5L218.0 134.0L214.0 134.0L214.0 134.0L210.0 134.0L210.0 134.0L206.0 134.0L206.0 134.0L202.0 134.0L202.0 134.0L200.0 134.0L200.0 133.5L198.0 133.5L198.0 133.0L194.0 133.0L194.0 133.0L190.0 133.0L190.0 132.5L186.0 132.5L186.0 132.0L182.0 132.0L182.0 131.5L178.0 131.5L178.0 131.5L174.0 131.5L174.0 131.0L170.0 131.0L170.0 130.5L166.0 130.5L166.0 130.0L162.0 130.0L162.0 130.0L158.0 130.0L158.0 129.5L154.0 129.5L154.0 129.0L150.0 129.0L150.0 128.5L146.0 128.5L146.0 128.0L142.0 128.0L142.0 127.5L138.0 127.5L138.0 127.0L134.0 127.0L134.0 126.5L130.0 126.5L130.0 126.0L126.0 126.0L126.0 125.5L125.0 125.5L125.0 125.5L124.0 125.5L124.0 125.5L123.0 125.5L123.0 125.0L122.0 125.0L122.0 125.0L121.0 125.0L121.0 125.0L120.0 125.0L120.0 125.0L119.0 125.0L119.0 124.5L118.0 124.5L118.0 124.5L117.0 124.5L117.0 124.5L116.0 124.5L116.0 124.5L115.0 124.5L115.0 124.0L114.0 124.0L114.0 124.0L113.0 124.0L113.0 124.0L112.0 124.0L112.0 123.5L111.0 123.5L111.0 123.5L110.0 123.5L110.0 123.5L109.0 123.5L109.0 123.5L108.0 123.5L108.0 123.0L107.0 123.0L107.0 123.0L106.0 123.0L106.0 123.0L105.0 123.0L105.0 123.0L104.0 123.0L104.0 122.5L103.0 122.5L103.0 122.5L102.0 122.5L102.0 122.5L101.0 122.5L101.0 122.0L100.0 122.0L100.0 121.0L99.0 121.0L99.0 120.5L98.0 120.5L98.0 120.0L97.0 120.0L97.0 119.5L96.0 119.5L96.0 119.0L95.0 119.0L95.0 118.0L94.0 118.0L94.0 117.5L93.0 117.5L93.0 117.0L92.0 117.0L92.0 116.0L91.0 116.0L91.0 115.5L90.0 115.5L90.0 115.0L89.0 115.0L89.0 114.0L88.0 114.0L88.0 111.5L87.0 111.5L87.0 109.0L86.0 109.0Z" fill="#5cc0a9" fill-opacity="0.33" stroke="none"/>
<line x1="81.8" y1="939.2" x2="86" y2="939.2" stroke="#3f4858" stroke-width="1"/>
<text x="76" y="943.2" text-anchor="end" class="tk">0</text>
<line x1="81.8" y1="866.4" x2="86" y2="866.4" stroke="#3f4858" stroke-width="1"/>
<text x="76" y="870.4" text-anchor="end" class="tk">0.2</text>
<line x1="81.8" y1="793.5" x2="86" y2="793.5" stroke="#3f4858" stroke-width="1"/>
<text x="76" y="797.5" text-anchor="end" class="tk">0.4</text>
<line x1="81.8" y1="720.7" x2="86" y2="720.7" stroke="#3f4858" stroke-width="1"/>
<text x="76" y="724.7" text-anchor="end" class="tk">0.6</text>
<line x1="81.8" y1="647.8" x2="86" y2="647.8" stroke="#3f4858" stroke-width="1"/>
<text x="76" y="651.8" text-anchor="end" class="tk">0.8</text>
<line x1="81.8" y1="575.0" x2="86" y2="575.0" stroke="#3f4858" stroke-width="1"/>
<text x="76" y="579.0" text-anchor="end" class="tk">1</text>
<line x1="85.8" y1="939.2" x2="969.4" y2="939.2" stroke="#404040" stroke-width="1.3"/>
<line x1="86.4" y1="939.2" x2="86.4" y2="945.2" stroke="#404040" stroke-width="1.5"/>
<line x1="968.8" y1="939.2" x2="968.8" y2="945.2" stroke="#404040" stroke-width="1.5"/>
<line x1="180.5" y1="939.2" x2="180.5" y2="945.2" stroke="#404040" stroke-width="1.2"/>
<text x="180.5" y="958.8" text-anchor="middle" class="tk">500</text>
<line x1="274.6" y1="939.2" x2="274.6" y2="945.2" stroke="#404040" stroke-width="1.2"/>
<text x="274.6" y="958.8" text-anchor="middle" class="tk">1000</text>
<line x1="368.8" y1="939.2" x2="368.8" y2="945.2" stroke="#404040" stroke-width="1.2"/>
<text x="368.8" y="958.8" text-anchor="middle" class="tk">1500</text>
<line x1="462.9" y1="939.2" x2="462.9" y2="945.2" stroke="#404040" stroke-width="1.2"/>
<text x="462.9" y="958.8" text-anchor="middle" class="tk">2000</text>
<line x1="557.0" y1="939.2" x2="557.0" y2="945.2" stroke="#404040" stroke-width="1.2"/>
<text x="557.0" y="958.8" text-anchor="middle" class="tk">2500</text>
<line x1="651.1" y1="939.2" x2="651.1" y2="945.2" stroke="#404040" stroke-width="1.2"/>
<text x="651.1" y="958.8" text-anchor="middle" class="tk">3000</text>
<line x1="745.3" y1="939.2" x2="745.3" y2="945.2" stroke="#404040" stroke-width="1.2"/>
<text x="745.3" y="958.8" text-anchor="middle" class="tk">3500</text>
<line x1="839.4" y1="939.2" x2="839.4" y2="945.2" stroke="#404040" stroke-width="1.2"/>
<text x="839.4" y="958.8" text-anchor="middle" class="tk">4000</text>
<line x1="933.5" y1="939.2" x2="933.5" y2="945.2" stroke="#404040" stroke-width="1.2"/>
<text x="933.5" y="958.8" text-anchor="middle" class="tk">4500</text>
<path d="M86.0 575.0L87.0 575.0L87.0 576.5L88.0 576.5L88.0 578.0L89.0 578.0L89.0 579.0L90.0 579.0L90.0 580.5L91.7 580.5L91.7 582.5L93.0 582.5L93.0 583.5L94.0 583.5L94.0 584.0L95.0 584.0L95.0 585.0L96.0 585.0L96.0 585.5L97.0 585.5L97.0 586.5L98.0 586.5L98.0 587.0L99.5 587.0L99.5 588.5L101.0 588.5L101.0 588.5L102.0 588.5L102.0 588.5L103.0 588.5L103.0 589.0L104.0 589.0L104.0 589.0L105.0 589.0L105.0 589.0L106.0 589.0L106.0 589.5L107.0 589.5L107.0 589.5L108.0 589.5L108.0 590.0L109.0 590.0L109.0 590.0L110.0 590.0L110.0 590.0L111.0 590.0L111.0 590.5L112.0 590.5L112.0 590.5L113.0 590.5L113.0 590.5L114.0 590.5L114.0 591.0L115.0 591.0L115.0 591.0L116.0 591.0L116.0 591.0L117.0 591.0L117.0 591.5L118.0 591.5L118.0 591.5L119.0 591.5L119.0 591.5L120.0 591.5L120.0 591.5L121.0 591.5L121.0 592.0L122.0 592.0L122.0 592.0L123.0 592.0L123.0 592.0L124.0 592.0L124.0 592.5L125.0 592.5L125.0 592.5L126.0 592.5L126.0 592.5L130.0 592.5L130.0 593.0L134.4 593.0L134.4 594.0L138.0 594.0L138.0 594.0L142.0 594.0L142.0 594.5L146.0 594.5L146.0 595.0L150.0 595.0L150.0 595.5L154.0 595.5L154.0 595.5L158.0 595.5L158.0 596.0L162.0 596.0L162.0 596.5L166.0 596.5L166.0 596.5L170.0 596.5L170.0 597.0L174.0 597.0L174.0 597.0L178.0 597.0L178.0 597.5L182.0 597.5L182.0 597.5L186.0 597.5L186.0 597.5L190.0 597.5L190.0 598.0L194.0 598.0L194.0 598.0L198.0 598.0L198.0 598.0L200.0 598.0L200.0 598.5L202.0 598.5L202.0 598.5L206.0 598.5L206.0 599.0L210.0 599.0L210.0 599.0L214.0 599.0L214.0 599.5L218.0 599.5L218.0 600.0L222.0 600.0L222.0 600.0L226.0 600.0L226.0 600.5L230.0 600.5L230.0 601.0L234.0 601.0L234.0 601.5L238.0 601.5L238.0 601.5L242.0 601.5L242.0 602.0L246.0 602.0L246.0 602.5L250.0 602.5L250.0 602.5L254.0 602.5L254.0 603.0L258.0 603.0L258.0 603.5L262.0 603.5L262.0 604.0L266.0 604.0L266.0 604.0L270.0 604.0L270.0 604.5L274.0 604.5L274.0 605.0L278.0 605.0L278.0 605.0L282.0 605.0L282.0 605.5L286.0 605.5L286.0 605.5L290.0 605.5L290.0 606.0L294.0 606.0L294.0 606.0L298.0 606.0L298.0 606.5L302.0 606.5L302.0 607.0L306.0 607.0L306.0 607.0L310.0 607.0L310.0 607.5L314.0 607.5L314.0 607.5L318.0 607.5L318.0 608.0L322.0 608.0L322.0 608.0L326.0 608.0L326.0 608.5L330.0 608.5L330.0 609.0L334.0 609.0L334.0 609.0L338.0 609.0L338.0 609.5L340.0 609.5L340.0 609.5L342.0 609.5L342.0 609.5L346.0 609.5L346.0 609.5L350.0 609.5L350.0 610.0L354.0 610.0L354.0 610.0L358.0 610.0L358.0 610.0L362.0 610.0L362.0 610.5L366.0 610.5L366.0 610.5L370.0 610.5L370.0 610.5L374.0 610.5L374.0 610.5L378.0 610.5L378.0 611.0L382.0 611.0L382.0 611.0L386.0 611.0L386.0 611.0L390.0 611.0L390.0 611.5L394.0 611.5L394.0 611.5L398.0 611.5L398.0 611.5L400.0 611.5L400.0 611.5L402.0 611.5L402.0 612.5L406.0 612.5L406.0 614.0L410.0 614.0L410.0 615.0L414.0 615.0L414.0 616.0L418.0 616.0L418.0 617.5L422.0 617.5L422.0 618.0L426.0 618.0L426.0 618.0L430.0 618.0L430.0 618.5L434.0 618.5L434.0 619.0L438.0 619.0L438.0 619.0L442.0 619.0L442.0 619.5L446.0 619.5L446.0 620.0L450.0 620.0L450.0 620.0L454.0 620.0L454.0 620.5L458.0 620.5L458.0 620.5L462.0 620.5L462.0 621.0L466.0 621.0L466.0 621.5L470.0 621.5L470.0 621.5L474.0 621.5L474.0 622.0L478.0 622.0L478.0 622.5L480.0 622.5L480.0 622.5L482.0 622.5L482.0 622.5L486.0 622.5L486.0 623.0L490.0 623.0L490.0 623.5L494.0 623.5L494.0 623.5L498.0 623.5L498.0 624.0L502.0 624.0L502.0 624.5L506.0 624.5L506.0 624.5L510.0 624.5L510.0 625.0L514.0 625.0L514.0 625.5L518.0 625.5L518.0 626.0L522.0 626.0L522.0 626.0L526.0 626.0L526.0 626.5L530.0 626.5L530.0 627.0L534.0 627.0L534.0 627.0L538.0 627.0L538.0 627.5L542.0 627.5L542.0 628.0L546.0 628.0L546.0 628.0L550.0 628.0L550.0 628.5L554.0 628.5L554.0 629.0L558.0 629.0L558.0 629.0L562.0 629.0L562.0 629.5L566.0 629.5L566.0 629.5L570.0 629.5L570.0 630.0L574.0 630.0L574.0 630.0L578.0 630.0L578.0 630.5L582.0 630.5L582.0 630.5L586.0 630.5L586.0 631.0L590.0 631.0L590.0 631.0L594.0 631.0L594.0 631.5L598.0 631.5L598.0 632.0L602.0 632.0L602.0 632.0L606.0 632.0L606.0 632.5L610.0 632.5L610.0 632.5L614.0 632.5L614.0 633.0L618.0 633.0L618.0 633.0L620.0 633.0L620.0 633.5L622.0 633.5L622.0 633.5L626.0 633.5L626.0 634.0L630.0 634.0L630.0 634.5L634.0 634.5L634.0 635.0L638.0 635.0L638.0 635.5L642.0 635.5L642.0 636.0L646.0 636.0L646.0 636.5L650.0 636.5L650.0 637.0L654.0 637.0L654.0 637.5L658.0 637.5L658.0 638.0L662.0 638.0L662.0 638.0L666.0 638.0L666.0 638.5L670.0 638.5L670.0 639.0L674.0 639.0L674.0 639.5L678.0 639.5L678.0 640.0L682.0 640.0L682.0 640.5L686.0 640.5L686.0 641.0L690.0 641.0L690.0 641.5L694.0 641.5L694.0 642.0L698.0 642.0L698.0 642.0L702.0 642.0L702.0 642.5L706.0 642.5L706.0 643.0L710.0 643.0L710.0 643.0L714.0 643.0L714.0 643.5L718.0 643.5L718.0 643.5L722.0 643.5L722.0 644.0L726.0 644.0L726.0 644.5L730.0 644.5L730.0 644.5L734.0 644.5L734.0 645.0L738.0 645.0L738.0 645.5L742.0 645.5L742.0 645.5L746.0 645.5L746.0 646.0L750.0 646.0L750.0 646.0L754.0 646.0L754.0 646.5L758.0 646.5L758.0 647.0L760.0 647.0L760.0 647.0L762.0 647.0L762.0 647.5L766.0 647.5L766.0 648.0L770.0 648.0L770.0 648.5L774.0 648.5L774.0 649.0L778.0 649.0L778.0 649.5L780.0 649.5L780.0 649.5L782.0 649.5L782.0 649.5L786.0 649.5L786.0 649.5L790.0 649.5L790.0 650.0L794.0 650.0L794.0 650.0L798.0 650.0L798.0 650.0L800.0 650.0L800.0 650.0L800.5 650.0L800.5 651.0L802.0 651.0L802.0 651.5L806.0 651.5L806.0 651.5L809.0 651.5L809.0 651.5L810.0 651.5L810.0 652.5L814.0 652.5L814.0 656.5L815.0 656.5L815.0 657.5L818.0 657.5L818.0 657.5L822.0 657.5L822.0 657.5L826.0 657.5L826.0 657.5L830.0 657.5L830.0 657.5L834.0 657.5L834.0 657.5L838.0 657.5L838.0 657.5L842.0 657.5L842.0 657.5L845.0 657.5L845.0 657.5L845.5 657.5L845.5 659.5L850.0 659.5L850.0 659.5L854.0 659.5L854.0 659.5L858.0 659.5L858.0 659.5L862.0 659.5L862.0 659.5L866.0 659.5L866.0 659.5L870.0 659.5L870.0 659.5L874.0 659.5L874.0 659.5L878.0 659.5L878.0 659.5L882.0 659.5L882.0 659.5L886.0 659.5L886.0 659.5L890.0 659.5L890.0 659.5L894.0 659.5L894.0 659.5L898.0 659.5L898.0 659.5L902.0 659.5L902.0 659.5L906.0 659.5L906.0 659.5L910.0 659.5L910.0 659.5L914.0 659.5L914.0 659.5L918.0 659.5L918.0 659.5L922.0 659.5L922.0 659.5L926.0 659.5L926.0 659.5L930.0 659.5L930.0 659.5L934.0 659.5L934.0 659.5L938.0 659.5L938.0 659.5L942.0 659.5L942.0 659.5L946.0 659.5L946.0 659.5L950.0 659.5L950.0 659.5L954.0 659.5L954.0 659.5L958.0 659.5L958.0 659.5L962.0 659.5L962.0 659.5L966.0 659.5L966.0 659.5L967.6 659.5L967.6 659.5" fill="none" stroke="#7a16ec" stroke-width="3.0" stroke-linejoin="miter"/>
<path d="M86.0 575.0L87.0 575.0L87.0 576.5L88.0 576.5L88.0 578.0L89.0 578.0L89.0 579.0L90.0 579.0L90.0 580.0L91.7 580.0L91.7 581.5L93.0 581.5L93.0 582.0L94.0 582.0L94.0 582.5L95.0 582.5L95.0 583.0L96.0 583.0L96.0 583.0L97.0 583.0L97.0 583.5L98.0 583.5L98.0 584.0L99.5 584.0L99.5 584.5L101.0 584.5L101.0 585.0L102.0 585.0L102.0 585.0L103.0 585.0L103.0 585.5L104.0 585.5L104.0 585.5L105.0 585.5L105.0 585.5L106.0 585.5L106.0 586.0L107.0 586.0L107.0 586.0L108.0 586.0L108.0 586.5L109.0 586.5L109.0 586.5L110.0 586.5L110.0 586.5L111.0 586.5L111.0 587.0L112.0 587.0L112.0 587.0L113.0 587.0L113.0 587.0L114.0 587.0L114.0 587.5L115.0 587.5L115.0 587.5L116.0 587.5L116.0 588.0L117.0 588.0L117.0 588.0L118.0 588.0L118.0 588.0L119.0 588.0L119.0 588.5L120.0 588.5L120.0 588.5L121.0 588.5L121.0 589.0L122.0 589.0L122.0 589.0L123.0 589.0L123.0 589.0L124.0 589.0L124.0 589.5L125.0 589.5L125.0 589.5L126.0 589.5L126.0 590.0L130.0 590.0L130.0 590.5L134.0 590.5L134.0 591.5L137.0 591.5L137.0 595.0L138.0 595.0L138.0 595.0L142.0 595.0L142.0 596.0L146.0 596.0L146.0 596.5L150.0 596.5L150.0 597.0L154.0 597.0L154.0 597.5L158.0 597.5L158.0 598.0L162.0 598.0L162.0 599.0L166.0 599.0L166.0 599.5L170.0 599.5L170.0 600.0L174.0 600.0L174.0 600.5L178.0 600.5L178.0 601.0L182.0 601.0L182.0 601.0L186.0 601.0L186.0 601.5L190.0 601.5L190.0 602.0L194.0 602.0L194.0 602.5L198.0 602.5L198.0 603.0L200.0 603.0L200.0 603.0L202.0 603.0L202.0 603.0L206.0 603.0L206.0 603.5L210.0 603.5L210.0 604.0L214.0 604.0L214.0 604.0L218.0 604.0L218.0 604.5L222.0 604.5L222.0 604.5L226.0 604.5L226.0 605.0L230.0 605.0L230.0 605.0L234.0 605.0L234.0 605.5L238.0 605.5L238.0 605.5L242.0 605.5L242.0 606.0L246.0 606.0L246.0 606.5L250.0 606.5L250.0 606.5L254.0 606.5L254.0 607.0L258.0 607.0L258.0 607.0L262.0 607.0L262.0 607.5L266.0 607.5L266.0 607.5L270.0 607.5L270.0 608.0L274.0 608.0L274.0 608.0L278.0 608.0L278.0 608.5L282.0 608.5L282.0 609.0L286.0 609.0L286.0 609.0L290.0 609.0L290.0 609.5L294.0 609.5L294.0 609.5L298.0 609.5L298.0 610.0L302.0 610.0L302.0 610.5L306.0 610.5L306.0 610.5L310.0 610.5L310.0 611.0L314.0 611.0L314.0 611.0L318.0 611.0L318.0 611.5L322.0 611.5L322.0 612.0L326.0 612.0L326.0 612.0L330.0 612.0L330.0 612.5L334.0 612.5L334.0 612.5L338.0 612.5L338.0 613.0L340.0 613.0L340.0 613.0L342.0 613.0L342.0 613.5L346.0 613.5L346.0 613.5L350.0 613.5L350.0 613.5L354.0 613.5L354.0 613.5L358.0 613.5L358.0 614.0L362.0 614.0L362.0 614.0L366.0 614.0L366.0 614.0L370.0 614.0L370.0 614.0L374.0 614.0L374.0 614.5L378.0 614.5L378.0 614.5L382.0 614.5L382.0 614.5L386.0 614.5L386.0 614.5L390.0 614.5L390.0 615.0L394.0 615.0L394.0 615.0L398.0 615.0L398.0 615.0L400.0 615.0L400.0 615.0L402.0 615.0L402.0 615.5L406.0 615.5L406.0 616.0L410.0 616.0L410.0 616.5L414.0 616.5L414.0 617.5L418.0 617.5L418.0 618.0L422.0 618.0L422.0 618.0L426.0 618.0L426.0 618.5L430.0 618.5L430.0 619.0L434.0 619.0L434.0 619.0L438.0 619.0L438.0 619.5L442.0 619.5L442.0 620.0L446.0 620.0L446.0 620.0L450.0 620.0L450.0 620.5L454.0 620.5L454.0 620.5L458.0 620.5L458.0 621.0L462.0 621.0L462.0 621.5L466.0 621.5L466.0 621.5L470.0 621.5L470.0 622.0L474.0 622.0L474.0 622.5L478.0 622.5L478.0 622.5L480.0 622.5L480.0 623.0L482.0 623.0L482.0 623.0L486.0 623.0L486.0 623.5L490.0 623.5L490.0 623.5L494.0 623.5L494.0 624.0L498.0 624.0L498.0 624.5L502.0 624.5L502.0 625.0L506.0 625.0L506.0 625.0L510.0 625.0L510.0 625.5L514.0 625.5L514.0 626.0L518.0 626.0L518.0 626.5L522.0 626.5L522.0 626.5L526.0 626.5L526.0 627.0L530.0 627.0L530.0 627.5L534.0 627.5L534.0 627.5L538.0 627.5L538.0 628.0L542.0 628.0L542.0 628.5L546.0 628.5L546.0 629.0L550.0 629.0L550.0 629.0L554.0 629.0L554.0 629.5L558.0 629.5L558.0 630.0L562.0 630.0L562.0 630.0L566.0 630.0L566.0 630.5L570.0 630.5L570.0 631.0L574.0 631.0L574.0 631.0L578.0 631.0L578.0 631.5L582.0 631.5L582.0 631.5L586.0 631.5L586.0 632.0L590.0 632.0L590.0 632.5L594.0 632.5L594.0 632.5L598.0 632.5L598.0 633.0L602.0 633.0L602.0 633.5L606.0 633.5L606.0 633.5L610.0 633.5L610.0 634.0L614.0 634.0L614.0 634.0L618.0 634.0L618.0 634.5L620.0 634.5L620.0 634.5L622.0 634.5L622.0 635.0L626.0 635.0L626.0 635.0L630.0 635.0L630.0 635.5L634.0 635.5L634.0 635.5L638.0 635.5L638.0 636.0L642.0 636.0L642.0 636.0L646.0 636.0L646.0 636.5L650.0 636.5L650.0 637.0L654.0 637.0L654.0 637.0L658.0 637.0L658.0 637.5L662.0 637.5L662.0 637.5L666.0 637.5L666.0 638.0L670.0 638.0L670.0 638.0L674.0 638.0L674.0 638.5L678.0 638.5L678.0 638.5L682.0 638.5L682.0 639.0L686.0 639.0L686.0 639.0L690.0 639.0L690.0 639.5L694.0 639.5L694.0 639.5L698.0 639.5L698.0 639.5L702.0 639.5L702.0 639.5L706.0 639.5L706.0 639.5L710.0 639.5L710.0 639.5L714.0 639.5L714.0 639.5L718.0 639.5L718.0 639.5L722.0 639.5L722.0 640.0L726.0 640.0L726.0 640.0L730.0 640.0L730.0 640.0L734.0 640.0L734.0 640.0L738.0 640.0L738.0 640.0L742.0 640.0L742.0 640.0L746.0 640.0L746.0 640.0L750.0 640.0L750.0 640.0L754.0 640.0L754.0 640.0L758.0 640.0L758.0 640.0L760.0 640.0L760.0 640.0L762.0 640.0L762.0 640.0L766.0 640.0L766.0 640.0L770.0 640.0L770.0 640.0L774.0 640.0L774.0 640.0L778.0 640.0L778.0 640.0L782.0 640.0L782.0 640.0L786.0 640.0L786.0 640.0L790.0 640.0L790.0 640.0L794.0 640.0L794.0 640.0L798.0 640.0L798.0 640.5L802.0 640.5L802.0 640.5L806.0 640.5L806.0 640.5L808.0 640.5L808.0 640.5L808.5 640.5L808.5 641.5L810.0 641.5L810.0 641.5L814.0 641.5L814.0 641.5L818.0 641.5L818.0 641.5L822.0 641.5L822.0 641.5L826.0 641.5L826.0 642.0L827.0 642.0L827.0 642.0L827.5 642.0L827.5 644.0L830.0 644.0L830.0 644.0L834.0 644.0L834.0 644.0L838.0 644.0L838.0 644.0L841.0 644.0L841.0 644.0L842.0 644.0L842.0 645.0L845.0 645.0L845.0 647.0L846.0 647.0L846.0 647.0L850.0 647.0L850.0 647.0L854.0 647.0L854.0 647.0L858.0 647.0L858.0 647.0L862.0 647.0L862.0 647.0L866.0 647.0L866.0 647.0L870.0 647.0L870.0 647.0L874.0 647.0L874.0 647.0L878.0 647.0L878.0 647.0L882.0 647.0L882.0 647.0L886.0 647.0L886.0 647.0L890.0 647.0L890.0 647.0L894.0 647.0L894.0 647.0L898.0 647.0L898.0 647.0L902.0 647.0L902.0 647.0L906.0 647.0L906.0 647.0L910.0 647.0L910.0 647.0L914.0 647.0L914.0 647.0L918.0 647.0L918.0 647.0L922.0 647.0L922.0 647.0L926.0 647.0L926.0 647.0L930.0 647.0L930.0 647.0L934.0 647.0L934.0 647.0L938.0 647.0L938.0 647.0L942.0 647.0L942.0 647.0L946.0 647.0L946.0 647.0L950.0 647.0L950.0 647.0L954.0 647.0L954.0 647.0L958.0 647.0L958.0 647.0L962.0 647.0L962.0 647.0L962.9 647.0L962.9 647.0" fill="none" stroke="#5cc0a9" stroke-width="3.0" stroke-linejoin="miter"/>
<path d="M86.0 574.5L87.0 574.5L87.0 575.0L88.0 575.0L88.0 575.5L89.0 575.5L89.0 576.0L90.0 576.0L90.0 576.5L91.0 576.5L91.0 577.0L92.0 577.0L92.0 577.5L93.0 577.5L93.0 578.0L94.0 578.0L94.0 578.0L95.0 578.0L95.0 578.5L96.0 578.5L96.0 579.0L97.0 579.0L97.0 579.5L98.0 579.5L98.0 580.0L99.0 580.0L99.0 580.5L100.0 580.5L100.0 581.0L101.0 581.0L101.0 581.0L102.0 581.0L102.0 581.5L103.0 581.5L103.0 581.5L104.0 581.5L104.0 581.5L105.0 581.5L105.0 582.0L106.0 582.0L106.0 582.0L107.0 582.0L107.0 582.5L108.0 582.5L108.0 582.5L109.0 582.5L109.0 582.5L110.0 582.5L110.0 583.0L111.0 583.0L111.0 583.0L112.0 583.0L112.0 583.0L113.0 583.0L113.0 583.5L114.0 583.5L114.0 583.5L115.0 583.5L115.0 583.5L116.0 583.5L116.0 584.0L117.0 584.0L117.0 584.0L118.0 584.0L118.0 584.0L119.0 584.0L119.0 584.5L120.0 584.5L120.0 584.5L121.0 584.5L121.0 585.0L122.0 585.0L122.0 585.0L123.0 585.0L123.0 585.0L124.0 585.0L124.0 585.5L125.0 585.5L125.0 585.5L126.0 585.5L126.0 585.5L130.0 585.5L130.0 586.5L134.0 586.5L134.0 587.0L138.0 587.0L138.0 588.0L142.0 588.0L142.0 588.5L146.0 588.5L146.0 589.5L150.0 589.5L150.0 590.0L154.0 590.0L154.0 590.5L158.0 590.5L158.0 590.5L162.0 590.5L162.0 591.0L166.0 591.0L166.0 591.0L170.0 591.0L170.0 591.5L174.0 591.5L174.0 591.5L178.0 591.5L178.0 592.0L182.0 592.0L182.0 592.5L186.0 592.5L186.0 592.5L190.0 592.5L190.0 593.0L194.0 593.0L194.0 593.0L198.0 593.0L198.0 593.5L200.0 593.5L200.0 593.5L202.0 593.5L202.0 594.0L206.0 594.0L206.0 594.0L210.0 594.0L210.0 594.5L214.0 594.5L214.0 595.0L218.0 595.0L218.0 595.5L222.0 595.5L222.0 595.5L226.0 595.5L226.0 596.0L230.0 596.0L230.0 596.5L234.0 596.5L234.0 597.0L238.0 597.0L238.0 597.5L242.0 597.5L242.0 597.5L246.0 597.5L246.0 598.0L250.0 598.0L250.0 598.5L254.0 598.5L254.0 599.0L258.0 599.0L258.0 599.0L262.0 599.0L262.0 599.5L266.0 599.5L266.0 600.0L270.0 600.0L270.0 600.5L274.0 600.5L274.0 600.5L278.0 600.5L278.0 601.0L282.0 601.0L282.0 601.0L286.0 601.0L286.0 601.0L290.0 601.0L290.0 601.5L294.0 601.5L294.0 601.5L298.0 601.5L298.0 602.0L302.0 602.0L302.0 602.0L306.0 602.0L306.0 602.5L310.0 602.5L310.0 602.5L314.0 602.5L314.0 602.5L318.0 602.5L318.0 603.0L322.0 603.0L322.0 603.0L326.0 603.0L326.0 603.5L330.0 603.5L330.0 603.5L334.0 603.5L334.0 603.5L338.0 603.5L338.0 604.0L340.0 604.0L340.0 604.0L342.0 604.0L342.0 604.0L346.0 604.0L346.0 604.5L350.0 604.5L350.0 604.5L354.0 604.5L354.0 604.5L358.0 604.5L358.0 605.0L362.0 605.0L362.0 605.0L366.0 605.0L366.0 605.5L370.0 605.5L370.0 605.5L374.0 605.5L374.0 605.5L378.0 605.5L378.0 606.0L382.0 606.0L382.0 606.0L386.0 606.0L386.0 606.5L390.0 606.5L390.0 606.5L394.0 606.5L394.0 606.5L398.0 606.5L398.0 607.0L400.0 607.0L400.0 607.0L402.0 607.0L402.0 607.5L406.0 607.5L406.0 608.5L410.0 608.5L410.0 609.0L414.0 609.0L414.0 610.0L418.0 610.0L418.0 611.0L422.0 611.0L422.0 611.5L426.0 611.5L426.0 611.5L430.0 611.5L430.0 612.0L434.0 612.0L434.0 612.0L438.0 612.0L438.0 612.5L442.0 612.5L442.0 613.0L446.0 613.0L446.0 613.0L450.0 613.0L450.0 613.5L454.0 613.5L454.0 614.0L458.0 614.0L458.0 614.0L462.0 614.0L462.0 614.5L466.0 614.5L466.0 614.5L470.0 614.5L470.0 615.0L474.0 615.0L474.0 615.5L478.0 615.5L478.0 615.5L480.0 615.5L480.0 616.0L482.0 616.0L482.0 616.0L486.0 616.0L486.0 616.5L490.0 616.5L490.0 616.5L494.0 616.5L494.0 617.0L498.0 617.0L498.0 617.5L502.0 617.5L502.0 617.5L506.0 617.5L506.0 618.0L510.0 618.0L510.0 618.5L514.0 618.5L514.0 618.5L518.0 618.5L518.0 619.0L522.0 619.0L522.0 619.5L526.0 619.5L526.0 619.5L530.0 619.5L530.0 620.0L534.0 620.0L534.0 620.5L538.0 620.5L538.0 620.5L542.0 620.5L542.0 621.0L546.0 621.0L546.0 621.5L550.0 621.5L550.0 621.5L554.0 621.5L554.0 622.0L558.0 622.0L558.0 622.5L562.0 622.5L562.0 622.5L566.0 622.5L566.0 623.0L570.0 623.0L570.0 623.0L574.0 623.0L574.0 623.5L578.0 623.5L578.0 623.5L582.0 623.5L582.0 624.0L586.0 624.0L586.0 624.0L590.0 624.0L590.0 624.5L594.0 624.5L594.0 625.0L598.0 625.0L598.0 625.0L602.0 625.0L602.0 625.5L606.0 625.5L606.0 625.5L610.0 625.5L610.0 626.0L614.0 626.0L614.0 626.0L618.0 626.0L618.0 626.5L620.0 626.5L620.0 626.5L622.0 626.5L622.0 627.0L626.0 627.0L626.0 627.0L630.0 627.0L630.0 627.5L634.0 627.5L634.0 628.0L638.0 628.0L638.0 628.0L642.0 628.0L642.0 628.5L646.0 628.5L646.0 629.0L650.0 629.0L650.0 629.5L654.0 629.5L654.0 629.5L658.0 629.5L658.0 630.0L662.0 630.0L662.0 630.5L666.0 630.5L666.0 631.0L670.0 631.0L670.0 631.0L674.0 631.0L674.0 631.5L678.0 631.5L678.0 632.0L682.0 632.0L682.0 632.5L686.0 632.5L686.0 632.5L690.0 632.5L690.0 633.0L694.0 633.0L694.0 633.0L698.0 633.0L698.0 633.5L702.0 633.5L702.0 633.5L706.0 633.5L706.0 634.0L710.0 634.0L710.0 634.0L714.0 634.0L714.0 634.5L718.0 634.5L718.0 634.5L722.0 634.5L722.0 635.0L726.0 635.0L726.0 635.0L730.0 635.0L730.0 635.5L734.0 635.5L734.0 635.5L738.0 635.5L738.0 635.5L742.0 635.5L742.0 636.0L746.0 636.0L746.0 636.0L750.0 636.0L750.0 636.5L754.0 636.5L754.0 636.5L758.0 636.5L758.0 637.0L760.0 637.0L760.0 637.0L762.0 637.0L762.0 637.5L766.0 637.5L766.0 638.5L770.0 638.5L770.0 639.0L774.0 639.0L774.0 640.0L778.0 640.0L778.0 641.0L780.0 641.0L780.0 641.5L782.0 641.5L782.0 641.5L786.0 641.5L786.0 641.5L790.0 641.5L790.0 642.0L794.0 642.0L794.0 642.0L798.0 642.0L798.0 642.0L800.0 642.0L800.0 642.0L802.0 642.0L802.0 642.0L806.0 642.0L806.0 642.0L810.0 642.0L810.0 642.5L814.0 642.5L814.0 642.5L818.0 642.5L818.0 642.5L822.0 642.5L822.0 642.5L826.0 642.5L826.0 642.5L830.0 642.5L830.0 642.5L834.0 642.5L834.0 642.5L838.0 642.5L838.0 642.5L841.0 642.5L841.0 642.5L842.0 642.5L842.0 644.0L845.0 644.0L845.0 648.5L846.0 648.5L846.0 648.5L850.0 648.5L850.0 648.5L854.0 648.5L854.0 648.5L858.0 648.5L858.0 648.5L862.0 648.5L862.0 648.5L866.0 648.5L866.0 648.5L870.0 648.5L870.0 648.5L874.0 648.5L874.0 648.5L878.0 648.5L878.0 648.5L882.0 648.5L882.0 648.5L886.0 648.5L886.0 648.5L890.0 648.5L890.0 648.5L894.0 648.5L894.0 648.5L898.0 648.5L898.0 648.5L902.0 648.5L902.0 648.5L906.0 648.5L906.0 648.5L910.0 648.5L910.0 648.5L914.0 648.5L914.0 648.5L918.0 648.5L918.0 648.5L922.0 648.5L922.0 648.5L926.0 648.5L926.0 648.5L930.0 648.5L930.0 648.5L934.0 648.5L934.0 648.5L938.0 648.5L938.0 648.5L942.0 648.5L942.0 648.5L946.0 648.5L946.0 648.5L950.0 648.5L950.0 648.5L954.0 648.5L954.0 648.5L958.0 648.5L958.0 648.5L962.0 648.5L962.0 648.5L966.0 648.5L966.0 648.5L967.6 648.5L967.6 648.5L967.6 671.0L967.6 671.0L966.0 671.0L966.0 671.0L962.0 671.0L962.0 671.0L958.0 671.0L958.0 671.0L954.0 671.0L954.0 671.0L950.0 671.0L950.0 671.0L946.0 671.0L946.0 671.0L942.0 671.0L942.0 671.0L938.0 671.0L938.0 671.0L934.0 671.0L934.0 671.0L930.0 671.0L930.0 671.0L926.0 671.0L926.0 671.0L922.0 671.0L922.0 671.0L918.0 671.0L918.0 671.0L914.0 671.0L914.0 671.0L910.0 671.0L910.0 671.0L906.0 671.0L906.0 671.0L902.0 671.0L902.0 671.0L898.0 671.0L898.0 671.0L894.0 671.0L894.0 671.0L890.0 671.0L890.0 671.0L886.0 671.0L886.0 671.0L882.0 671.0L882.0 671.0L878.0 671.0L878.0 671.0L874.0 671.0L874.0 671.0L870.0 671.0L870.0 671.0L866.0 671.0L866.0 671.0L862.0 671.0L862.0 671.0L858.0 671.0L858.0 671.0L854.0 671.0L854.0 671.0L850.0 671.0L850.0 671.0L846.5 671.0L846.5 669.0L846.0 669.0L846.0 669.0L842.0 669.0L842.0 669.0L838.0 669.0L838.0 669.0L834.0 669.0L834.0 669.0L830.0 669.0L830.0 669.0L826.0 669.0L826.0 669.0L822.0 669.0L822.0 669.0L818.0 669.0L818.0 669.0L814.0 669.0L814.0 669.0L812.5 669.0L812.5 667.0L812.0 667.0L812.0 666.5L810.0 666.5L810.0 665.5L806.0 665.5L806.0 665.0L802.0 665.0L802.0 664.0L798.0 664.0L798.0 663.0L794.0 663.0L794.0 662.0L790.0 662.0L790.0 661.0L786.0 661.0L786.0 660.0L782.0 660.0L782.0 660.0L780.0 660.0L780.0 659.5L778.0 659.5L778.0 659.0L774.0 659.0L774.0 658.5L770.0 658.5L770.0 658.0L766.0 658.0L766.0 657.5L762.0 657.5L762.0 657.0L760.0 657.0L760.0 657.0L758.0 657.0L758.0 656.5L754.0 656.5L754.0 656.0L750.0 656.0L750.0 655.5L746.0 655.5L746.0 655.0L742.0 655.0L742.0 654.5L738.0 654.5L738.0 654.0L734.0 654.0L734.0 653.5L730.0 653.5L730.0 653.0L726.0 653.0L726.0 652.5L722.0 652.5L722.0 652.0L718.0 652.0L718.0 652.0L714.0 652.0L714.0 651.5L710.0 651.5L710.0 651.0L706.0 651.0L706.0 650.5L702.0 650.5L702.0 650.0L698.0 650.0L698.0 649.5L694.0 649.5L694.0 649.0L690.0 649.0L690.0 648.5L686.0 648.5L686.0 648.5L682.0 648.5L682.0 648.0L678.0 648.0L678.0 647.5L674.0 647.5L674.0 647.5L670.0 647.5L670.0 647.0L666.0 647.0L666.0 647.0L662.0 647.0L662.0 646.5L658.0 646.5L658.0 646.0L654.0 646.0L654.0 646.0L650.0 646.0L650.0 645.5L646.0 645.5L646.0 645.0L642.0 645.0L642.0 645.0L638.0 645.0L638.0 644.5L634.0 644.5L634.0 644.5L630.0 644.5L630.0 644.0L626.0 644.0L626.0 643.5L622.0 643.5L622.0 643.5L620.0 643.5L620.0 643.5L618.0 643.5L618.0 643.0L614.0 643.0L614.0 642.5L610.0 642.5L610.0 642.5L606.0 642.5L606.0 642.0L602.0 642.0L602.0 642.0L598.0 642.0L598.0 641.5L594.0 641.5L594.0 641.0L590.0 641.0L590.0 641.0L586.0 641.0L586.0 640.5L582.0 640.5L582.0 640.0L578.0 640.0L578.0 640.0L574.0 640.0L574.0 639.5L570.0 639.5L570.0 639.5L566.0 639.5L566.0 639.0L562.0 639.0L562.0 638.5L558.0 638.5L558.0 638.5L554.0 638.5L554.0 638.0L550.0 638.0L550.0 637.5L546.0 637.5L546.0 637.5L542.0 637.5L542.0 637.0L538.0 637.0L538.0 636.5L534.0 636.5L534.0 636.0L530.0 636.0L530.0 636.0L526.0 636.0L526.0 635.5L522.0 635.5L522.0 635.0L518.0 635.0L518.0 635.0L514.0 635.0L514.0 634.5L510.0 634.5L510.0 634.0L506.0 634.0L506.0 633.5L502.0 633.5L502.0 633.5L498.0 633.5L498.0 633.0L494.0 633.0L494.0 632.5L490.0 632.5L490.0 632.0L486.0 632.0L486.0 632.0L482.0 632.0L482.0 631.5L480.0 631.5L480.0 631.5L478.0 631.5L478.0 631.0L474.0 631.0L474.0 630.0L470.0 630.0L470.0 629.5L466.0 629.5L466.0 629.0L462.0 629.0L462.0 628.5L458.0 628.5L458.0 627.5L454.0 627.5L454.0 627.0L450.0 627.0L450.0 626.5L446.0 626.5L446.0 626.0L442.0 626.0L442.0 625.0L438.0 625.0L438.0 624.5L434.0 624.5L434.0 624.0L430.0 624.0L430.0 623.5L426.0 623.5L426.0 622.5L422.0 622.5L422.0 622.0L418.0 622.0L418.0 621.5L414.0 621.5L414.0 620.5L410.0 620.5L410.0 620.0L406.0 620.0L406.0 619.5L402.0 619.5L402.0 619.0L400.0 619.0L400.0 619.0L398.0 619.0L398.0 618.5L394.0 618.5L394.0 618.5L390.0 618.5L390.0 618.5L386.0 618.5L386.0 618.0L382.0 618.0L382.0 618.0L378.0 618.0L378.0 617.5L374.0 617.5L374.0 617.5L370.0 617.5L370.0 617.5L366.0 617.5L366.0 617.0L362.0 617.0L362.0 617.0L358.0 617.0L358.0 616.5L354.0 616.5L354.0 616.5L350.0 616.5L350.0 616.5L346.0 616.5L346.0 616.0L342.0 616.0L342.0 616.0L340.0 616.0L340.0 616.0L338.0 616.0L338.0 615.5L334.0 615.5L334.0 615.0L330.0 615.0L330.0 615.0L326.0 615.0L326.0 614.5L322.0 614.5L322.0 614.0L318.0 614.0L318.0 614.0L314.0 614.0L314.0 613.5L310.0 613.5L310.0 613.0L306.0 613.0L306.0 612.5L302.0 612.5L302.0 612.5L298.0 612.5L298.0 612.0L294.0 612.0L294.0 611.5L290.0 611.5L290.0 611.5L286.0 611.5L286.0 611.0L282.0 611.0L282.0 610.5L278.0 610.5L278.0 610.5L274.0 610.5L274.0 610.0L270.0 610.0L270.0 609.5L266.0 609.5L266.0 609.5L262.0 609.5L262.0 609.0L258.0 609.0L258.0 608.5L254.0 608.5L254.0 608.5L250.0 608.5L250.0 608.0L246.0 608.0L246.0 607.5L242.0 607.5L242.0 607.5L238.0 607.5L238.0 607.0L234.0 607.0L234.0 606.5L230.0 606.5L230.0 606.0L226.0 606.0L226.0 606.0L222.0 606.0L222.0 605.5L218.0 605.5L218.0 605.0L214.0 605.0L214.0 605.0L210.0 605.0L210.0 604.5L206.0 604.5L206.0 604.0L202.0 604.0L202.0 604.0L200.0 604.0L200.0 604.0L198.0 604.0L198.0 603.5L194.0 603.5L194.0 603.0L190.0 603.0L190.0 603.0L186.0 603.0L186.0 602.5L182.0 602.5L182.0 602.0L178.0 602.0L178.0 602.0L174.0 602.0L174.0 601.5L170.0 601.5L170.0 601.5L166.0 601.5L166.0 601.0L162.0 601.0L162.0 600.5L158.0 600.5L158.0 600.5L154.0 600.5L154.0 600.0L150.0 600.0L150.0 599.5L146.0 599.5L146.0 599.0L142.0 599.0L142.0 598.5L138.0 598.5L138.0 598.0L134.0 598.0L134.0 597.0L130.0 597.0L130.0 596.5L126.0 596.5L126.0 596.5L125.0 596.5L125.0 596.5L124.0 596.5L124.0 596.0L123.0 596.0L123.0 596.0L122.0 596.0L122.0 596.0L121.0 596.0L121.0 596.0L120.0 596.0L120.0 595.5L119.0 595.5L119.0 595.5L118.0 595.5L118.0 595.5L117.0 595.5L117.0 595.0L116.0 595.0L116.0 595.0L115.0 595.0L115.0 595.0L114.0 595.0L114.0 594.5L113.0 594.5L113.0 594.5L112.0 594.5L112.0 594.0L111.0 594.0L111.0 594.0L110.0 594.0L110.0 594.0L109.0 594.0L109.0 593.5L108.0 593.5L108.0 593.5L107.0 593.5L107.0 593.0L106.0 593.0L106.0 593.0L105.0 593.0L105.0 593.0L104.0 593.0L104.0 592.5L103.0 592.5L103.0 592.5L102.0 592.5L102.0 592.0L101.0 592.0L101.0 592.0L100.0 592.0L100.0 591.0L99.0 591.0L99.0 589.5L98.0 589.5L98.0 588.5L97.0 588.5L97.0 587.5L96.0 587.5L96.0 586.0L95.0 586.0L95.0 585.0L94.0 585.0L94.0 584.0L93.0 584.0L93.0 582.5L92.0 582.5L92.0 581.5L91.0 581.5L91.0 580.0L90.0 580.0L90.0 579.0L89.0 579.0L89.0 578.0L88.0 578.0L88.0 576.5L87.0 576.5L87.0 575.5L86.0 575.5Z" fill="#7a16ec" fill-opacity="0.30" stroke="none"/>
<path d="M86.0 574.5L87.0 574.5L87.0 575.0L88.0 575.0L88.0 575.5L89.0 575.5L89.0 576.0L90.0 576.0L90.0 576.0L91.0 576.0L91.0 576.5L92.0 576.5L92.0 577.0L93.0 577.0L93.0 577.5L94.0 577.5L94.0 578.0L95.0 578.0L95.0 578.5L96.0 578.5L96.0 579.0L97.0 579.0L97.0 579.0L98.0 579.0L98.0 579.5L99.0 579.5L99.0 580.0L100.0 580.0L100.0 580.5L101.0 580.5L101.0 581.0L102.0 581.0L102.0 581.0L103.0 581.0L103.0 581.5L104.0 581.5L104.0 581.5L105.0 581.5L105.0 582.0L106.0 582.0L106.0 582.0L107.0 582.0L107.0 582.5L108.0 582.5L108.0 582.5L109.0 582.5L109.0 583.0L110.0 583.0L110.0 583.0L111.0 583.0L111.0 583.5L112.0 583.5L112.0 583.5L113.0 583.5L113.0 584.0L114.0 584.0L114.0 584.0L115.0 584.0L115.0 584.5L116.0 584.5L116.0 584.5L117.0 584.5L117.0 585.0L118.0 585.0L118.0 585.0L119.0 585.0L119.0 585.5L120.0 585.5L120.0 585.5L121.0 585.5L121.0 585.5L122.0 585.5L122.0 586.0L123.0 586.0L123.0 586.0L124.0 586.0L124.0 586.0L125.0 586.0L125.0 586.5L126.0 586.5L126.0 586.5L130.0 586.5L130.0 587.0L134.0 587.0L134.0 588.0L135.0 588.0L135.0 588.0L138.0 588.0L138.0 588.5L142.0 588.5L142.0 589.5L146.0 589.5L146.0 590.0L150.0 590.0L150.0 591.0L154.0 591.0L154.0 591.5L158.0 591.5L158.0 592.0L162.0 592.0L162.0 592.0L166.0 592.0L166.0 592.5L170.0 592.5L170.0 593.0L174.0 593.0L174.0 593.5L178.0 593.5L178.0 594.0L182.0 594.0L182.0 594.0L186.0 594.0L186.0 594.5L190.0 594.5L190.0 595.0L194.0 595.0L194.0 595.5L198.0 595.5L198.0 596.0L200.0 596.0L200.0 596.0L202.0 596.0L202.0 596.0L206.0 596.0L206.0 596.5L210.0 596.5L210.0 597.0L214.0 597.0L214.0 597.0L218.0 597.0L218.0 597.5L222.0 597.5L222.0 597.5L226.0 597.5L226.0 598.0L230.0 598.0L230.0 598.5L234.0 598.5L234.0 598.5L238.0 598.5L238.0 599.0L242.0 599.0L242.0 599.5L246.0 599.5L246.0 599.5L250.0 599.5L250.0 600.0L254.0 600.0L254.0 600.0L258.0 600.0L258.0 600.5L262.0 600.5L262.0 601.0L266.0 601.0L266.0 601.0L270.0 601.0L270.0 601.5L274.0 601.5L274.0 601.5L278.0 601.5L278.0 602.0L282.0 602.0L282.0 602.0L286.0 602.0L286.0 602.5L290.0 602.5L290.0 602.5L294.0 602.5L294.0 602.5L298.0 602.5L298.0 603.0L302.0 603.0L302.0 603.0L306.0 603.0L306.0 603.5L310.0 603.5L310.0 603.5L314.0 603.5L314.0 603.5L318.0 603.5L318.0 604.0L322.0 604.0L322.0 604.0L326.0 604.0L326.0 604.5L330.0 604.5L330.0 604.5L334.0 604.5L334.0 604.5L338.0 604.5L338.0 605.0L340.0 605.0L340.0 605.0L342.0 605.0L342.0 605.0L346.0 605.0L346.0 605.5L350.0 605.5L350.0 605.5L354.0 605.5L354.0 605.5L358.0 605.5L358.0 606.0L362.0 606.0L362.0 606.0L366.0 606.0L366.0 606.5L370.0 606.5L370.0 606.5L374.0 606.5L374.0 606.5L378.0 606.5L378.0 607.0L382.0 607.0L382.0 607.0L386.0 607.0L386.0 607.5L390.0 607.5L390.0 607.5L394.0 607.5L394.0 607.5L398.0 607.5L398.0 608.0L400.0 608.0L400.0 608.0L402.0 608.0L402.0 608.5L406.0 608.5L406.0 609.0L410.0 609.0L410.0 609.5L414.0 609.5L414.0 610.5L418.0 610.5L418.0 611.0L422.0 611.0L422.0 611.5L426.0 611.5L426.0 611.5L430.0 611.5L430.0 612.0L434.0 612.0L434.0 612.0L438.0 612.0L438.0 612.5L442.0 612.5L442.0 613.0L446.0 613.0L446.0 613.0L450.0 613.0L450.0 613.5L454.0 613.5L454.0 614.0L458.0 614.0L458.0 614.0L462.0 614.0L462.0 614.5L466.0 614.5L466.0 614.5L470.0 614.5L470.0 615.0L474.0 615.0L474.0 615.5L478.0 615.5L478.0 615.5L480.0 615.5L480.0 616.0L482.0 616.0L482.0 616.0L486.0 616.0L486.0 616.5L490.0 616.5L490.0 616.5L494.0 616.5L494.0 617.0L498.0 617.0L498.0 617.5L502.0 617.5L502.0 617.5L506.0 617.5L506.0 618.0L510.0 618.0L510.0 618.5L514.0 618.5L514.0 618.5L518.0 618.5L518.0 619.0L522.0 619.0L522.0 619.5L526.0 619.5L526.0 619.5L530.0 619.5L530.0 620.0L534.0 620.0L534.0 620.5L538.0 620.5L538.0 620.5L542.0 620.5L542.0 621.0L546.0 621.0L546.0 621.5L550.0 621.5L550.0 621.5L554.0 621.5L554.0 622.0L558.0 622.0L558.0 622.5L562.0 622.5L562.0 622.5L566.0 622.5L566.0 623.0L570.0 623.0L570.0 623.0L574.0 623.0L574.0 623.5L578.0 623.5L578.0 623.5L582.0 623.5L582.0 624.0L586.0 624.0L586.0 624.0L590.0 624.0L590.0 624.5L594.0 624.5L594.0 625.0L598.0 625.0L598.0 625.0L602.0 625.0L602.0 625.5L606.0 625.5L606.0 625.5L610.0 625.5L610.0 626.0L614.0 626.0L614.0 626.0L618.0 626.0L618.0 626.5L620.0 626.5L620.0 626.5L622.0 626.5L622.0 626.5L626.0 626.5L626.0 627.0L630.0 627.0L630.0 627.0L634.0 627.0L634.0 627.5L638.0 627.5L638.0 627.5L642.0 627.5L642.0 628.0L646.0 628.0L646.0 628.0L650.0 628.0L650.0 628.5L654.0 628.5L654.0 628.5L658.0 628.5L658.0 629.0L662.0 629.0L662.0 629.0L666.0 629.0L666.0 629.0L670.0 629.0L670.0 629.5L674.0 629.5L674.0 629.5L678.0 629.5L678.0 630.0L682.0 630.0L682.0 630.0L686.0 630.0L686.0 630.5L690.0 630.5L690.0 630.5L694.0 630.5L694.0 630.5L698.0 630.5L698.0 631.0L702.0 631.0L702.0 631.0L706.0 631.0L706.0 631.0L710.0 631.0L710.0 631.0L714.0 631.0L714.0 631.0L718.0 631.0L718.0 631.0L722.0 631.0L722.0 631.0L726.0 631.0L726.0 631.5L730.0 631.5L730.0 631.5L734.0 631.5L734.0 631.5L738.0 631.5L738.0 631.5L742.0 631.5L742.0 631.5L746.0 631.5L746.0 631.5L750.0 631.5L750.0 632.0L754.0 632.0L754.0 632.0L758.0 632.0L758.0 632.0L760.0 632.0L760.0 632.0L762.0 632.0L762.0 632.0L766.0 632.0L766.0 632.0L770.0 632.0L770.0 632.0L774.0 632.0L774.0 632.0L778.0 632.0L778.0 632.0L782.0 632.0L782.0 632.0L786.0 632.0L786.0 632.0L790.0 632.0L790.0 632.0L794.0 632.0L794.0 632.0L798.0 632.0L798.0 632.0L802.0 632.0L802.0 632.0L806.0 632.0L806.0 632.0L807.0 632.0L807.0 632.0L807.5 632.0L807.5 634.5L810.0 634.5L810.0 634.5L814.0 634.5L814.0 634.5L818.0 634.5L818.0 634.5L822.0 634.5L822.0 634.5L826.0 634.5L826.0 634.5L830.0 634.5L830.0 634.5L834.0 634.5L834.0 634.5L837.0 634.5L837.0 634.5L837.5 634.5L837.5 636.0L841.0 636.0L841.0 636.0L841.5 636.0L841.5 637.5L846.0 637.5L846.0 637.5L850.0 637.5L850.0 637.5L854.0 637.5L854.0 637.5L858.0 637.5L858.0 637.5L862.0 637.5L862.0 637.5L866.0 637.5L866.0 637.5L870.0 637.5L870.0 637.5L874.0 637.5L874.0 637.5L878.0 637.5L878.0 637.5L882.0 637.5L882.0 637.5L886.0 637.5L886.0 637.5L890.0 637.5L890.0 637.5L894.0 637.5L894.0 637.5L898.0 637.5L898.0 637.5L902.0 637.5L902.0 637.5L906.0 637.5L906.0 637.5L910.0 637.5L910.0 637.5L914.0 637.5L914.0 637.5L918.0 637.5L918.0 637.5L922.0 637.5L922.0 637.5L926.0 637.5L926.0 637.5L930.0 637.5L930.0 637.5L934.0 637.5L934.0 637.5L938.0 637.5L938.0 637.5L942.0 637.5L942.0 637.5L946.0 637.5L946.0 637.5L950.0 637.5L950.0 637.5L954.0 637.5L954.0 637.5L958.0 637.5L958.0 637.5L962.0 637.5L962.0 637.5L962.9 637.5L962.9 637.5L962.9 657.5L962.9 657.5L962.0 657.5L962.0 657.5L958.0 657.5L958.0 657.5L954.0 657.5L954.0 657.5L950.0 657.5L950.0 657.5L946.0 657.5L946.0 657.5L942.0 657.5L942.0 657.5L938.0 657.5L938.0 657.5L934.0 657.5L934.0 657.5L930.0 657.5L930.0 657.5L926.0 657.5L926.0 657.5L922.0 657.5L922.0 657.5L918.0 657.5L918.0 657.5L914.0 657.5L914.0 657.5L910.0 657.5L910.0 657.5L906.0 657.5L906.0 657.5L902.0 657.5L902.0 657.5L898.0 657.5L898.0 657.5L894.0 657.5L894.0 657.5L890.0 657.5L890.0 657.5L886.0 657.5L886.0 657.5L882.0 657.5L882.0 657.5L878.0 657.5L878.0 657.5L874.0 657.5L874.0 657.5L870.0 657.5L870.0 657.5L866.0 657.5L866.0 657.5L862.0 657.5L862.0 657.5L858.0 657.5L858.0 657.5L854.0 657.5L854.0 657.5L850.0 657.5L850.0 657.5L846.0 657.5L846.0 657.5L841.5 657.5L841.5 653.5L841.0 653.5L841.0 653.5L838.0 653.5L838.0 653.0L834.0 653.0L834.0 653.0L830.0 653.0L830.0 653.0L827.5 653.0L827.5 651.5L827.0 651.5L827.0 651.5L826.0 651.5L826.0 651.5L822.0 651.5L822.0 651.5L818.0 651.5L818.0 651.0L814.0 651.0L814.0 651.0L810.0 651.0L810.0 651.0L808.5 651.0L808.5 650.0L808.0 650.0L808.0 650.0L806.0 650.0L806.0 650.0L802.0 650.0L802.0 650.0L798.0 650.0L798.0 650.0L794.0 650.0L794.0 649.5L790.0 649.5L790.0 649.5L786.0 649.5L786.0 649.5L782.0 649.5L782.0 649.5L780.0 649.5L780.0 649.5L778.0 649.5L778.0 649.5L774.0 649.5L774.0 649.0L770.0 649.0L770.0 649.0L766.0 649.0L766.0 649.0L762.0 649.0L762.0 649.0L760.0 649.0L760.0 649.0L758.0 649.0L758.0 649.0L754.0 649.0L754.0 648.5L750.0 648.5L750.0 648.5L746.0 648.5L746.0 648.5L742.0 648.5L742.0 648.5L738.0 648.5L738.0 648.5L734.0 648.5L734.0 648.0L730.0 648.0L730.0 648.0L726.0 648.0L726.0 648.0L722.0 648.0L722.0 648.0L718.0 648.0L718.0 647.5L714.0 647.5L714.0 647.5L710.0 647.5L710.0 647.5L706.0 647.5L706.0 647.5L702.0 647.5L702.0 647.0L698.0 647.0L698.0 647.0L694.0 647.0L694.0 647.0L690.0 647.0L690.0 647.0L686.0 647.0L686.0 646.5L682.0 646.5L682.0 646.5L678.0 646.5L678.0 646.0L674.0 646.0L674.0 646.0L670.0 646.0L670.0 646.0L666.0 646.0L666.0 645.5L662.0 645.5L662.0 645.5L658.0 645.5L658.0 645.0L654.0 645.0L654.0 645.0L650.0 645.0L650.0 645.0L646.0 645.0L646.0 644.5L642.0 644.5L642.0 644.5L638.0 644.5L638.0 644.0L634.0 644.0L634.0 644.0L630.0 644.0L630.0 644.0L626.0 644.0L626.0 643.5L622.0 643.5L622.0 643.5L620.0 643.5L620.0 643.5L618.0 643.5L618.0 643.0L614.0 643.0L614.0 642.5L610.0 642.5L610.0 642.5L606.0 642.5L606.0 642.0L602.0 642.0L602.0 642.0L598.0 642.0L598.0 641.5L594.0 641.5L594.0 641.0L590.0 641.0L590.0 641.0L586.0 641.0L586.0 640.5L582.0 640.5L582.0 640.0L578.0 640.0L578.0 640.0L574.0 640.0L574.0 639.5L570.0 639.5L570.0 639.5L566.0 639.5L566.0 639.0L562.0 639.0L562.0 638.5L558.0 638.5L558.0 638.5L554.0 638.5L554.0 638.0L550.0 638.0L550.0 637.5L546.0 637.5L546.0 637.5L542.0 637.5L542.0 637.0L538.0 637.0L538.0 636.5L534.0 636.5L534.0 636.0L530.0 636.0L530.0 636.0L526.0 636.0L526.0 635.5L522.0 635.5L522.0 635.0L518.0 635.0L518.0 635.0L514.0 635.0L514.0 634.5L510.0 634.5L510.0 634.0L506.0 634.0L506.0 633.5L502.0 633.5L502.0 633.5L498.0 633.5L498.0 633.0L494.0 633.0L494.0 632.5L490.0 632.5L490.0 632.0L486.0 632.0L486.0 632.0L482.0 632.0L482.0 631.5L480.0 631.5L480.0 631.5L478.0 631.5L478.0 631.0L474.0 631.0L474.0 630.5L470.0 630.5L470.0 630.0L466.0 630.0L466.0 629.5L462.0 629.5L462.0 629.0L458.0 629.0L458.0 629.0L454.0 629.0L454.0 628.5L450.0 628.5L450.0 628.0L446.0 628.0L446.0 627.5L442.0 627.5L442.0 627.0L438.0 627.0L438.0 626.5L434.0 626.5L434.0 626.0L430.0 626.0L430.0 625.5L426.0 625.5L426.0 625.0L422.0 625.0L422.0 624.5L418.0 624.5L418.0 624.0L414.0 624.0L414.0 623.5L410.0 623.5L410.0 623.0L406.0 623.0L406.0 622.5L402.0 622.5L402.0 622.0L400.0 622.0L400.0 622.0L398.0 622.0L398.0 622.0L394.0 622.0L394.0 621.5L390.0 621.5L390.0 621.5L386.0 621.5L386.0 621.5L382.0 621.5L382.0 621.5L378.0 621.5L378.0 621.0L374.0 621.0L374.0 621.0L370.0 621.0L370.0 621.0L366.0 621.0L366.0 620.5L362.0 620.5L362.0 620.5L358.0 620.5L358.0 620.5L354.0 620.5L354.0 620.5L350.0 620.5L350.0 620.0L346.0 620.0L346.0 620.0L342.0 620.0L342.0 620.0L340.0 620.0L340.0 620.0L338.0 620.0L338.0 619.5L334.0 619.5L334.0 619.0L330.0 619.0L330.0 619.0L326.0 619.0L326.0 618.5L322.0 618.5L322.0 618.0L318.0 618.0L318.0 618.0L314.0 618.0L314.0 617.5L310.0 617.5L310.0 617.0L306.0 617.0L306.0 616.5L302.0 616.5L302.0 616.5L298.0 616.5L298.0 616.0L294.0 616.0L294.0 615.5L290.0 615.5L290.0 615.5L286.0 615.5L286.0 615.0L282.0 615.0L282.0 614.5L278.0 614.5L278.0 614.5L274.0 614.5L274.0 614.0L270.0 614.0L270.0 613.5L266.0 613.5L266.0 613.5L262.0 613.5L262.0 613.0L258.0 613.0L258.0 613.0L254.0 613.0L254.0 612.5L250.0 612.5L250.0 612.5L246.0 612.5L246.0 612.0L242.0 612.0L242.0 612.0L238.0 612.0L238.0 611.5L234.0 611.5L234.0 611.5L230.0 611.5L230.0 611.0L226.0 611.0L226.0 610.5L222.0 610.5L222.0 610.5L218.0 610.5L218.0 610.0L214.0 610.0L214.0 610.0L210.0 610.0L210.0 609.5L206.0 609.5L206.0 609.5L202.0 609.5L202.0 609.0L200.0 609.0L200.0 609.0L198.0 609.0L198.0 608.5L194.0 608.5L194.0 608.0L190.0 608.0L190.0 607.0L186.0 607.0L186.0 606.5L182.0 606.5L182.0 606.0L178.0 606.0L178.0 605.5L174.0 605.5L174.0 605.0L170.0 605.0L170.0 604.5L166.0 604.5L166.0 603.5L162.0 603.5L162.0 603.0L158.0 603.0L158.0 602.5L154.0 602.5L154.0 602.0L150.0 602.0L150.0 601.0L146.0 601.0L146.0 600.0L142.0 600.0L142.0 598.5L138.0 598.5L138.0 597.5L134.0 597.5L134.0 596.5L130.0 596.5L130.0 595.5L126.0 595.5L126.0 595.0L125.0 595.0L125.0 595.0L124.0 595.0L124.0 594.5L123.0 594.5L123.0 594.5L122.0 594.5L122.0 594.0L121.0 594.0L121.0 594.0L120.0 594.0L120.0 593.5L119.0 593.5L119.0 593.5L118.0 593.5L118.0 593.0L117.0 593.0L117.0 592.5L116.0 592.5L116.0 592.5L115.0 592.5L115.0 592.0L114.0 592.0L114.0 592.0L113.0 592.0L113.0 591.5L112.0 591.5L112.0 591.0L111.0 591.0L111.0 591.0L110.0 591.0L110.0 590.5L109.0 590.5L109.0 590.5L108.0 590.5L108.0 590.0L107.0 590.0L107.0 590.0L106.0 590.0L106.0 589.5L105.0 589.5L105.0 589.0L104.0 589.0L104.0 589.0L103.0 589.0L103.0 588.5L102.0 588.5L102.0 588.5L101.0 588.5L101.0 588.0L100.0 588.0L100.0 587.0L99.0 587.0L99.0 586.0L98.0 586.0L98.0 585.5L97.0 585.5L97.0 584.5L96.0 584.5L96.0 583.5L95.0 583.5L95.0 582.5L94.0 582.5L94.0 582.0L93.0 582.0L93.0 581.0L92.0 581.0L92.0 580.0L91.0 580.0L91.0 579.0L90.0 579.0L90.0 578.0L89.0 578.0L89.0 577.5L88.0 577.5L88.0 576.5L87.0 576.5L87.0 575.5L86.0 575.5Z" fill="#5cc0a9" fill-opacity="0.33" stroke="none"/>
<text x="36.78" y="56.60" font-size="15.3" textLength="198.44" lengthAdjust="spacingAndGlyphs" fill="#111" stroke="#111" stroke-width="0.4">Kaplan-Meier Survival Curve</text>
<text x="637.80" y="101.50" font-size="21.8" font-weight="bold" textLength="111.63" lengthAdjust="spacingAndGlyphs">TIA/Stroke</text>
<text x="637.80" y="584.60" font-size="21.8" font-weight="bold" textLength="205.63" lengthAdjust="spacingAndGlyphs">All-cause mortality</text>
<text x="452.03" y="515.60" font-size="14.5" textLength="155.01" lengthAdjust="spacingAndGlyphs" fill="#111" stroke="#111" stroke-width="0.55">Days after index event</text>
<text x="449.43" y="979.60" font-size="14.5" textLength="154.60" lengthAdjust="spacingAndGlyphs" fill="#111" stroke="#111" stroke-width="0.55">Days after index event</text>
<text transform="translate(41.20,357.90) rotate(-90)" x="0.00" y="0" font-size="14.5" fill="#111" stroke="#111" stroke-width="0.25" textLength="133.19" lengthAdjust="spacingAndGlyphs">Survival Probability</text>
<text transform="translate(41.20,822.90) rotate(-90)" x="0.00" y="0" font-size="14.5" fill="#111" stroke="#111" stroke-width="0.25" textLength="132.59" lengthAdjust="spacingAndGlyphs">Survival Probability</text>
<rect x="623.90" y="193.00" width="345.30" height="118.50" fill="none" stroke="#000" stroke-width="2.4"/>
<text x="637.32" y="218.80" font-size="18.3" textLength="123.47" lengthAdjust="spacingAndGlyphs" stroke="#000" stroke-width="0.12">Log-Rank test</text>
<line x1="637.20" y1="221.10" x2="761.70" y2="221.10" stroke="#000" stroke-width="1.6"/>
<text x="638.10" y="267.40" font-size="18.3" textLength="12.40" lengthAdjust="spacingAndGlyphs" stroke="#000" stroke-width="0.12">X</text>
<text x="651.40" y="262.20" font-size="12.5" textLength="5.26" lengthAdjust="spacingAndGlyphs" stroke="#000" stroke-width="0.12">2</text>
<text x="657.30" y="267.40" font-size="18.3" textLength="113.88" lengthAdjust="spacingAndGlyphs" stroke="#000" stroke-width="0.12">= 0.366, df=1</text>
<text x="774.17" y="267.40" font-size="18.3" font-weight="bold" textLength="69.67" lengthAdjust="spacingAndGlyphs">, p=0.54</text>
<text x="638.50" y="292.60" font-size="18.3" font-weight="bold" textLength="109.18" lengthAdjust="spacingAndGlyphs">aHR = 1.096</text>
<text x="756.63" y="292.60" font-size="18.3" textLength="164.15" lengthAdjust="spacingAndGlyphs" stroke="#000" stroke-width="0.12">(95% CI: 0.81-1.48</text>
<text x="921.40" y="292.60" font-size="18.3" font-weight="bold" textLength="4.57" lengthAdjust="spacingAndGlyphs">)</text>
<rect x="626.50" y="719.80" width="345.80" height="118.70" fill="none" stroke="#000" stroke-width="2.4"/>
<text x="640.83" y="746.20" font-size="18.3" textLength="122.16" lengthAdjust="spacingAndGlyphs" stroke="#000" stroke-width="0.12">Log-Rank test</text>
<line x1="640.70" y1="748.50" x2="763.90" y2="748.50" stroke="#000" stroke-width="1.6"/>
<text x="641.00" y="796.20" font-size="18.3" textLength="12.40" lengthAdjust="spacingAndGlyphs" stroke="#000" stroke-width="0.12">X</text>
<text x="653.80" y="791.20" font-size="12.5" textLength="5.06" lengthAdjust="spacingAndGlyphs" stroke="#000" stroke-width="0.12">2</text>
<text x="660.20" y="796.20" font-size="18.3" textLength="104.18" lengthAdjust="spacingAndGlyphs" stroke="#000" stroke-width="0.12">= 0.61, df=1</text>
<text x="765.34" y="796.20" font-size="18.3" font-weight="bold" textLength="71.64" lengthAdjust="spacingAndGlyphs">, p=0.43</text>
<text x="641.40" y="820.60" font-size="18.3" font-weight="bold" textLength="109.08" lengthAdjust="spacingAndGlyphs">aHR = 1.086</text>
<text x="758.93" y="820.60" font-size="18.3" textLength="163.95" lengthAdjust="spacingAndGlyphs" stroke="#000" stroke-width="0.12">(95% CI: 0.88-1.33</text>
<text x="923.70" y="820.60" font-size="18.3" font-weight="bold" textLength="4.67" lengthAdjust="spacingAndGlyphs">)</text>
<rect x="70.9" y="995.9" width="62.1" height="15.2" rx="7.6" fill="#7a16ec"/>
<rect x="70.9" y="1023" width="64.4" height="15.1" rx="7.55" fill="#5cc0a9"/>
<text x="141.91" y="1006.00" font-size="16" font-weight="bold" textLength="65.57" lengthAdjust="spacingAndGlyphs">Female</text>
<text x="141.89" y="1033.50" font-size="16" font-weight="bold" textLength="42.99" lengthAdjust="spacingAndGlyphs">Male</text>
<text x="230.70" y="1146.1" style="font-family:Liberation Serif,serif" font-size="27" font-weight="bold" textLength="95.09" lengthAdjust="spacingAndGlyphs">Figure 1</text>
<text x="325.50" y="1146.1" style="font-family:Liberation Serif,serif" font-size="27" textLength="488.41" lengthAdjust="spacingAndGlyphs">: Time to event analysis of primary outcomes</text>
<line x1="230.7" y1="1150.6" x2="325.8" y2="1150.6" stroke="#000" stroke-width="2"/>
</svg>
</body></html>
